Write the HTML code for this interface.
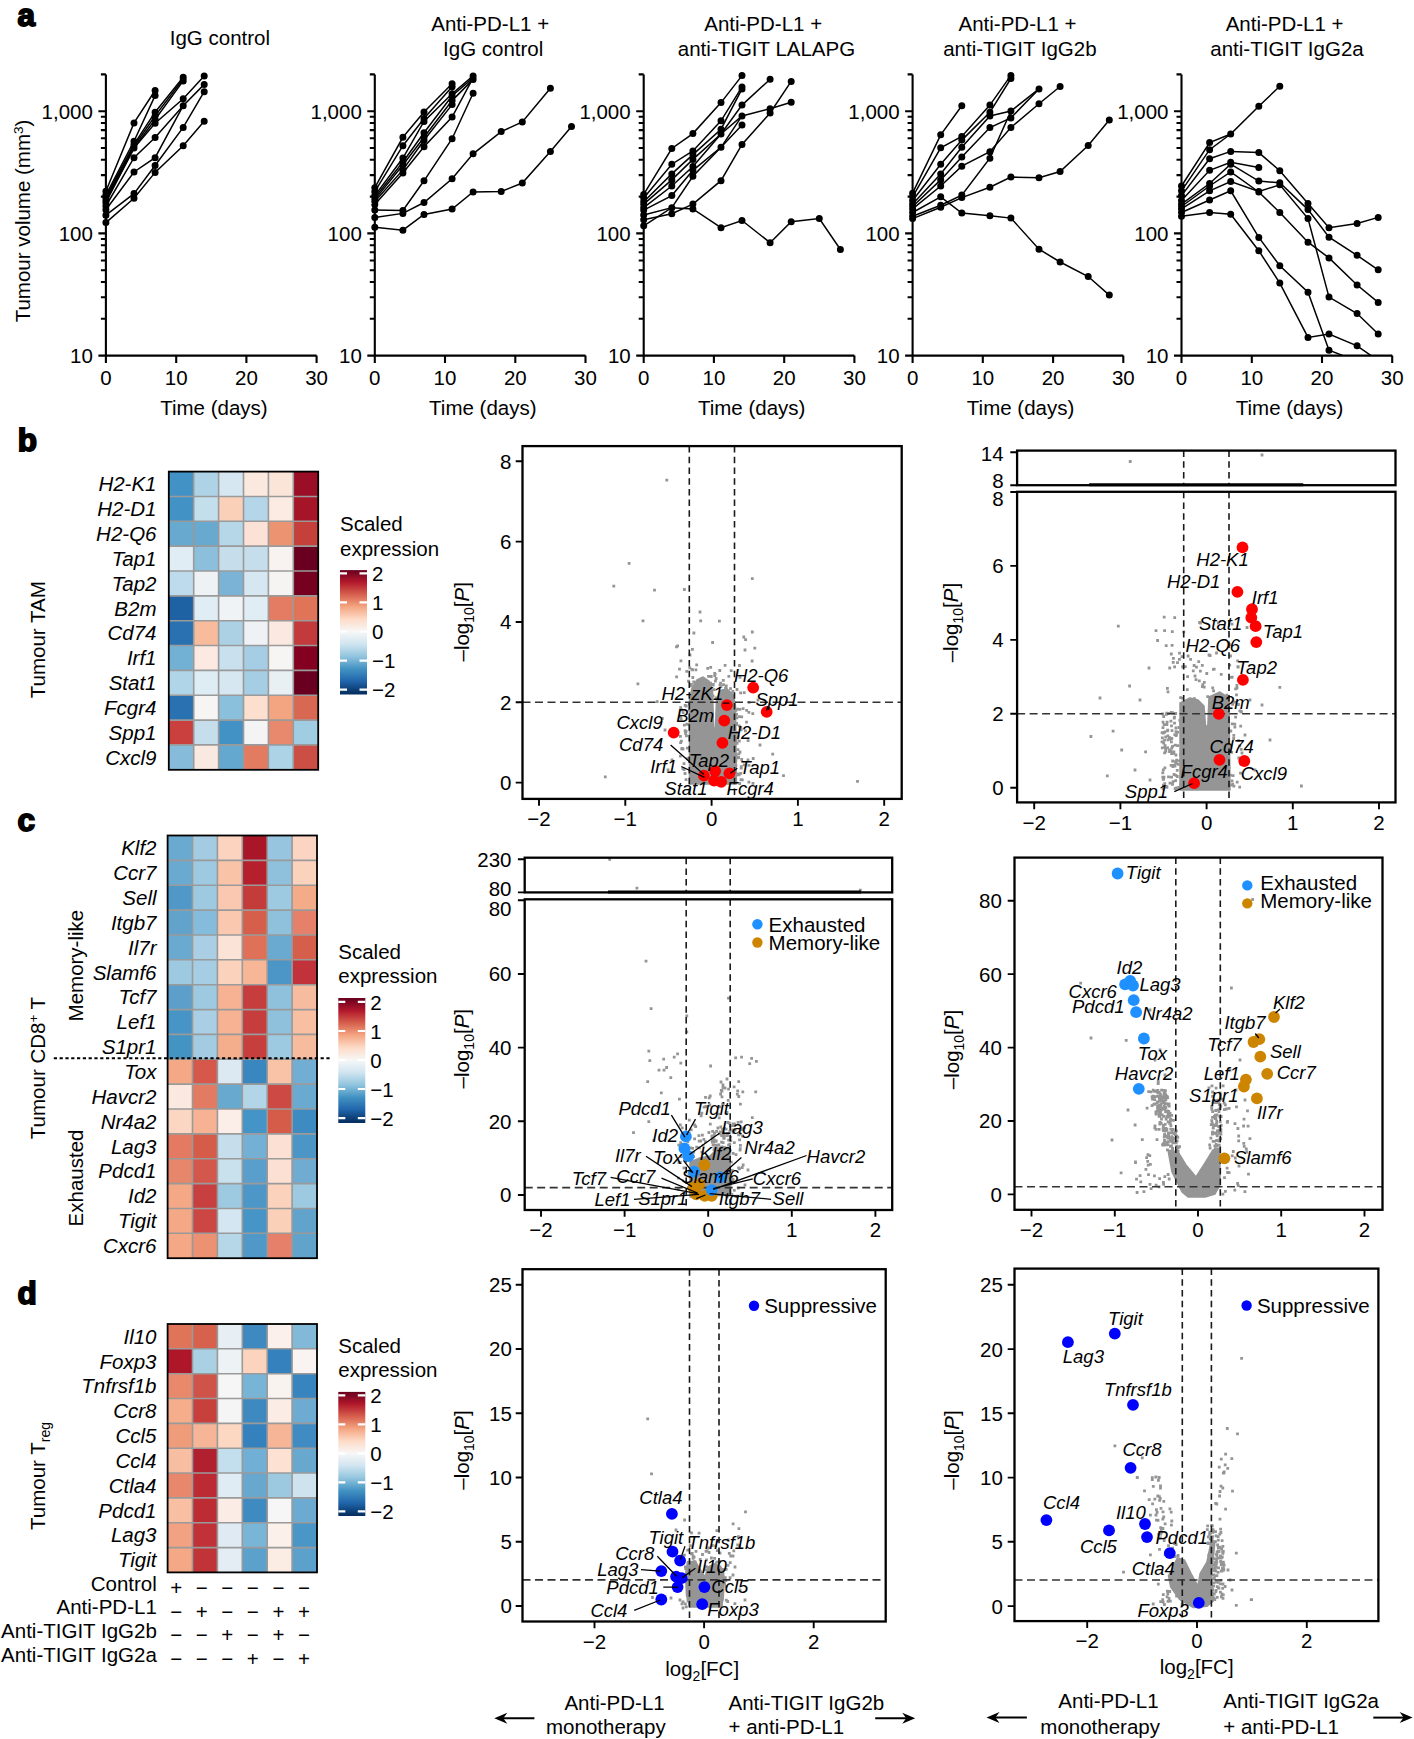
<!DOCTYPE html><html><head><meta charset="utf-8"><style>html,body{margin:0;padding:0;background:#fff}svg{display:block}</style></head><body>
<svg width="1414" height="1739" viewBox="0 0 1414 1739">
<rect width="1414" height="1739" fill="#fff"/>
<g font-family="&quot;Liberation Sans&quot;, sans-serif" font-size="20.5" fill="#000">
<defs><clipPath id="clipA"><rect x="0" y="0" width="1414" height="355.6"/></clipPath></defs>
<text x="17.6" y="26" font-size="31.5" font-weight="bold" stroke="#000" stroke-width="1.8">a</text>
<text x="17.8" y="451.1" font-size="31.5" font-weight="bold" stroke="#000" stroke-width="1.8">b</text>
<text x="17.6" y="831" font-size="31.5" font-weight="bold" stroke="#000" stroke-width="1.8">c</text>
<text x="17.6" y="1304.2" font-size="31.5" font-weight="bold" stroke="#000" stroke-width="1.8">d</text>
<text x="0" y="0"></text>
<text transform="translate(30.0 221.0) rotate(-90)" text-anchor="middle">Tumour volume (mm<tspan font-size="13.5" dy="-7">3</tspan><tspan dy="7">)</tspan></text>
<g stroke="#000" stroke-width="2.1" fill="none">
<path d="M105.9 74.4V363.1"/>
<path d="M98.4 355.6H316.6"/>
<path d="M100.9 318.8H105.9M100.9 297.3H105.9M100.9 282H105.9M100.9 270.2H105.9M100.9 260.5H105.9M100.9 252.3H105.9M100.9 245.2H105.9M100.9 239H105.9M98.4 233.4H105.9M100.9 196.6H105.9M100.9 175.1H105.9M100.9 159.8H105.9M100.9 148H105.9M100.9 138.3H105.9M100.9 130.1H105.9M100.9 123H105.9M100.9 116.8H105.9M98.4 111.2H105.9M100.9 74.4H105.9"/>
<path d="M176.2 355.6V363.1M246.4 355.6V363.1M316.6 355.6V363.1"/>
</g>
<text x="92.9" y="362.9" text-anchor="end">10</text>
<text x="92.9" y="240.7" text-anchor="end">100</text>
<text x="92.9" y="118.5" text-anchor="end">1,000</text>
<text x="105.9" y="385.2" text-anchor="middle">0</text>
<text x="176.2" y="385.2" text-anchor="middle">10</text>
<text x="246.4" y="385.2" text-anchor="middle">20</text>
<text x="316.6" y="385.2" text-anchor="middle">30</text>
<text x="213.9" y="414.6" text-anchor="middle">Time (days)</text>
<text x="219.9" y="45.3" text-anchor="middle">IgG control</text>
<g clip-path="url(#clipA)">
<g stroke="#000" stroke-width="1.5" fill="none">
<path d="M105.9 191.3L134 122.9L155.1 90.5"/>
<path d="M105.9 195L134 141.2L155.1 95.6"/>
<path d="M105.9 196.8L134 144.4L155.1 112.2L183.2 77.2"/>
<path d="M105.9 198.7L134 146.2L155.1 115.9L183.2 79"/>
<path d="M105.9 200.5L134 148.1L155.1 119.5L183.2 80.9"/>
<path d="M105.9 202.4L134 148.1L155.1 123.2L183.2 98.8L204.2 76.1"/>
<path d="M105.9 206L134 157.7L155.1 137.5L183.2 105.7L204.2 84.4"/>
<path d="M105.9 209.7L134 172L155.1 157.7L183.2 105.7"/>
<path d="M105.9 215.2L134 193.6L155.1 165.5L183.2 127.4L204.2 91.7"/>
<path d="M105.9 222.6L134 198.2L155.1 172.4L183.2 145.8L204.2 121.2"/>
</g>
<path d="M105.9 191.3h0M134 122.9h0M155.1 90.5h0M105.9 195h0M134 141.2h0M155.1 95.6h0M105.9 196.8h0M134 144.4h0M155.1 112.2h0M183.2 77.2h0M105.9 198.7h0M134 146.2h0M155.1 115.9h0M183.2 79h0M105.9 200.5h0M134 148.1h0M155.1 119.5h0M183.2 80.9h0M105.9 202.4h0M134 148.1h0M155.1 123.2h0M183.2 98.8h0M204.2 76.1h0M105.9 206h0M134 157.7h0M155.1 137.5h0M183.2 105.7h0M204.2 84.4h0M105.9 209.7h0M134 172h0M155.1 157.7h0M183.2 105.7h0M105.9 215.2h0M134 193.6h0M155.1 165.5h0M183.2 127.4h0M204.2 91.7h0M105.9 222.6h0M134 198.2h0M155.1 172.4h0M183.2 145.8h0M204.2 121.2h0" stroke="#000" stroke-width="7" stroke-linecap="round"/>
</g>
<g stroke="#000" stroke-width="2.1" fill="none">
<path d="M374.8 74.4V363.1"/>
<path d="M367.3 355.6H585.5"/>
<path d="M369.8 318.8H374.8M369.8 297.3H374.8M369.8 282H374.8M369.8 270.2H374.8M369.8 260.5H374.8M369.8 252.3H374.8M369.8 245.2H374.8M369.8 239H374.8M367.3 233.4H374.8M369.8 196.6H374.8M369.8 175.1H374.8M369.8 159.8H374.8M369.8 148H374.8M369.8 138.3H374.8M369.8 130.1H374.8M369.8 123H374.8M369.8 116.8H374.8M367.3 111.2H374.8M369.8 74.4H374.8"/>
<path d="M445 355.6V363.1M515.3 355.6V363.1M585.5 355.6V363.1"/>
</g>
<text x="361.8" y="362.9" text-anchor="end">10</text>
<text x="361.8" y="240.7" text-anchor="end">100</text>
<text x="361.8" y="118.5" text-anchor="end">1,000</text>
<text x="374.8" y="385.2" text-anchor="middle">0</text>
<text x="445" y="385.2" text-anchor="middle">10</text>
<text x="515.3" y="385.2" text-anchor="middle">20</text>
<text x="585.5" y="385.2" text-anchor="middle">30</text>
<text x="482.8" y="414.6" text-anchor="middle">Time (days)</text>
<text x="490.2" y="31" text-anchor="middle">Anti-PD-L1 +</text>
<text x="493.2" y="55.9" text-anchor="middle">IgG control</text>
<g clip-path="url(#clipA)">
<g stroke="#000" stroke-width="1.5" fill="none">
<path d="M374.8 187.7L402.9 137.3L424 112L452.1 83.8"/>
<path d="M374.8 191.7L402.9 145.7L424 118.5L452.1 86.8"/>
<path d="M374.8 195.6L402.9 158L424 121.4L452.1 93.7L473.1 75.9"/>
<path d="M374.8 197.6L402.9 162L424 132.8L452.1 95.7L473.1 77.9"/>
<path d="M374.8 199.6L402.9 165L424 137.3L452.1 100.6L473.1 79.4"/>
<path d="M374.8 201.6L402.9 169.9L424 140.2L452.1 104.6"/>
<path d="M374.8 204.5L402.9 172.9L424 146.7L452.1 117L473.1 77.9"/>
<path d="M374.8 210L402.9 210.5L424 180.8L452.1 138.7L473.1 93.2"/>
<path d="M374.8 217.4L402.9 213.4L424 202.5L452.1 178.8L473.1 153.8L501.2 131.6L522.3 122L550.4 88.2"/>
<path d="M374.8 227.3L402.9 230.2L424 214.4L452.1 209L473.1 192L501.2 191.5L522.3 183L550.4 151.4L571.5 126.6"/>
</g>
<path d="M374.8 187.7h0M402.9 137.3h0M424 112h0M452.1 83.8h0M374.8 191.7h0M402.9 145.7h0M424 118.5h0M452.1 86.8h0M374.8 195.6h0M402.9 158h0M424 121.4h0M452.1 93.7h0M473.1 75.9h0M374.8 197.6h0M402.9 162h0M424 132.8h0M452.1 95.7h0M473.1 77.9h0M374.8 199.6h0M402.9 165h0M424 137.3h0M452.1 100.6h0M473.1 79.4h0M374.8 201.6h0M402.9 169.9h0M424 140.2h0M452.1 104.6h0M374.8 204.5h0M402.9 172.9h0M424 146.7h0M452.1 117h0M473.1 77.9h0M374.8 210h0M402.9 210.5h0M424 180.8h0M452.1 138.7h0M473.1 93.2h0M374.8 217.4h0M402.9 213.4h0M424 202.5h0M452.1 178.8h0M473.1 153.8h0M501.2 131.6h0M522.3 122h0M550.4 88.2h0M374.8 227.3h0M402.9 230.2h0M424 214.4h0M452.1 209h0M473.1 192h0M501.2 191.5h0M522.3 183h0M550.4 151.4h0M571.5 126.6h0" stroke="#000" stroke-width="7" stroke-linecap="round"/>
</g>
<g stroke="#000" stroke-width="2.1" fill="none">
<path d="M643.7 74.4V363.1"/>
<path d="M636.2 355.6H854.4"/>
<path d="M638.7 318.8H643.7M638.7 297.3H643.7M638.7 282H643.7M638.7 270.2H643.7M638.7 260.5H643.7M638.7 252.3H643.7M638.7 245.2H643.7M638.7 239H643.7M636.2 233.4H643.7M638.7 196.6H643.7M638.7 175.1H643.7M638.7 159.8H643.7M638.7 148H643.7M638.7 138.3H643.7M638.7 130.1H643.7M638.7 123H643.7M638.7 116.8H643.7M636.2 111.2H643.7M638.7 74.4H643.7"/>
<path d="M713.9 355.6V363.1M784.2 355.6V363.1M854.4 355.6V363.1"/>
</g>
<text x="630.7" y="362.9" text-anchor="end">10</text>
<text x="630.7" y="240.7" text-anchor="end">100</text>
<text x="630.7" y="118.5" text-anchor="end">1,000</text>
<text x="643.7" y="385.2" text-anchor="middle">0</text>
<text x="713.9" y="385.2" text-anchor="middle">10</text>
<text x="784.2" y="385.2" text-anchor="middle">20</text>
<text x="854.4" y="385.2" text-anchor="middle">30</text>
<text x="751.7" y="414.6" text-anchor="middle">Time (days)</text>
<text x="763.2" y="31" text-anchor="middle">Anti-PD-L1 +</text>
<text x="766.5" y="55.9" text-anchor="middle">anti-TIGIT LALAPG</text>
<g clip-path="url(#clipA)">
<g stroke="#000" stroke-width="1.5" fill="none">
<path d="M643.7 194.4L671.8 148.5L692.9 133.6L721 102.6L742 75.6"/>
<path d="M643.7 198L671.8 164.2L692.9 150.9L721 120.8L742 86.9"/>
<path d="M643.7 201.7L671.8 173.9L692.9 154.6L721 129.2L742 88.9"/>
<path d="M643.7 204.1L671.8 179.9L692.9 159.4L721 134L742 105.1L770.1 79.2"/>
<path d="M643.7 207.7L671.8 186L692.9 166.6L721 134L742 115.9L770.1 108.7L791.2 102.2"/>
<path d="M643.7 210.1L671.8 195.6L692.9 170.3L721 147.3L742 125.1"/>
<path d="M643.7 214.9L671.8 207.7L692.9 176.3L721 147.3L742 115.9"/>
<path d="M643.7 219.8L671.8 213.7L692.9 204.1L721 180.7L742 144.4L770.1 113L791.2 81.4"/>
<path d="M643.7 225.8L671.8 207.7L692.9 208.9L721 227.7L742 220.5L770.1 242.7L791.2 221.7L819.3 218.6L840.4 249.5"/>
</g>
<path d="M643.7 194.4h0M671.8 148.5h0M692.9 133.6h0M721 102.6h0M742 75.6h0M643.7 198h0M671.8 164.2h0M692.9 150.9h0M721 120.8h0M742 86.9h0M643.7 201.7h0M671.8 173.9h0M692.9 154.6h0M721 129.2h0M742 88.9h0M643.7 204.1h0M671.8 179.9h0M692.9 159.4h0M721 134h0M742 105.1h0M770.1 79.2h0M643.7 207.7h0M671.8 186h0M692.9 166.6h0M721 134h0M742 115.9h0M770.1 108.7h0M791.2 102.2h0M643.7 210.1h0M671.8 195.6h0M692.9 170.3h0M721 147.3h0M742 125.1h0M643.7 214.9h0M671.8 207.7h0M692.9 176.3h0M721 147.3h0M742 115.9h0M643.7 219.8h0M671.8 213.7h0M692.9 204.1h0M721 180.7h0M742 144.4h0M770.1 113h0M791.2 81.4h0M643.7 225.8h0M671.8 207.7h0M692.9 208.9h0M721 227.7h0M742 220.5h0M770.1 242.7h0M791.2 221.7h0M819.3 218.6h0M840.4 249.5h0" stroke="#000" stroke-width="7" stroke-linecap="round"/>
</g>
<g stroke="#000" stroke-width="2.1" fill="none">
<path d="M912.6 74.4V363.1"/>
<path d="M905.1 355.6H1123.3"/>
<path d="M907.6 318.8H912.6M907.6 297.3H912.6M907.6 282H912.6M907.6 270.2H912.6M907.6 260.5H912.6M907.6 252.3H912.6M907.6 245.2H912.6M907.6 239H912.6M905.1 233.4H912.6M907.6 196.6H912.6M907.6 175.1H912.6M907.6 159.8H912.6M907.6 148H912.6M907.6 138.3H912.6M907.6 130.1H912.6M907.6 123H912.6M907.6 116.8H912.6M905.1 111.2H912.6M907.6 74.4H912.6"/>
<path d="M982.8 355.6V363.1M1053.1 355.6V363.1M1123.3 355.6V363.1"/>
</g>
<text x="899.6" y="362.9" text-anchor="end">10</text>
<text x="899.6" y="240.7" text-anchor="end">100</text>
<text x="899.6" y="118.5" text-anchor="end">1,000</text>
<text x="912.6" y="385.2" text-anchor="middle">0</text>
<text x="982.8" y="385.2" text-anchor="middle">10</text>
<text x="1053.1" y="385.2" text-anchor="middle">20</text>
<text x="1123.3" y="385.2" text-anchor="middle">30</text>
<text x="1020.6" y="414.6" text-anchor="middle">Time (days)</text>
<text x="1017.5" y="31" text-anchor="middle">Anti-PD-L1 +</text>
<text x="1019.9" y="55.9" text-anchor="middle">anti-TIGIT IgG2b</text>
<g clip-path="url(#clipA)">
<g stroke="#000" stroke-width="1.5" fill="none">
<path d="M912.6 193.2L940.7 134.8L961.8 105.8"/>
<path d="M912.6 196.8L940.7 147.8L961.8 136.5L989.9 105.1L1010.9 75.4"/>
<path d="M912.6 200.5L940.7 164.2L961.8 140.1L989.9 112.3L1010.9 78.5"/>
<path d="M912.6 204.1L940.7 173.9L961.8 147.3L989.9 115.9L1010.9 111.1L1039 88.9"/>
<path d="M912.6 206.5L940.7 179.9L961.8 157L989.9 127.5L1010.9 117.9L1039 88.9"/>
<path d="M912.6 208.9L940.7 186L961.8 166.2L989.9 151.7L1010.9 127.5L1039 103.8L1060.1 86.5"/>
<path d="M912.6 212.5L940.7 196.8L961.8 213L989.9 215.7L1010.9 218.1L1039 249.2L1060.1 262L1088.2 276.5L1109.3 295.1"/>
<path d="M912.6 216.2L940.7 205.3L961.8 195.1L989.9 158.2L1010.9 111.1"/>
<path d="M912.6 218.6L940.7 207.2L961.8 197.6L989.9 187.2L1010.9 177L1039 177.8L1060.1 171.5L1088.2 145.6L1109.3 120"/>
</g>
<path d="M912.6 193.2h0M940.7 134.8h0M961.8 105.8h0M912.6 196.8h0M940.7 147.8h0M961.8 136.5h0M989.9 105.1h0M1010.9 75.4h0M912.6 200.5h0M940.7 164.2h0M961.8 140.1h0M989.9 112.3h0M1010.9 78.5h0M912.6 204.1h0M940.7 173.9h0M961.8 147.3h0M989.9 115.9h0M1010.9 111.1h0M1039 88.9h0M912.6 206.5h0M940.7 179.9h0M961.8 157h0M989.9 127.5h0M1010.9 117.9h0M1039 88.9h0M912.6 208.9h0M940.7 186h0M961.8 166.2h0M989.9 151.7h0M1010.9 127.5h0M1039 103.8h0M1060.1 86.5h0M912.6 212.5h0M940.7 196.8h0M961.8 213h0M989.9 215.7h0M1010.9 218.1h0M1039 249.2h0M1060.1 262h0M1088.2 276.5h0M1109.3 295.1h0M912.6 216.2h0M940.7 205.3h0M961.8 195.1h0M989.9 158.2h0M1010.9 111.1h0M912.6 218.6h0M940.7 207.2h0M961.8 197.6h0M989.9 187.2h0M1010.9 177h0M1039 177.8h0M1060.1 171.5h0M1088.2 145.6h0M1109.3 120h0" stroke="#000" stroke-width="7" stroke-linecap="round"/>
</g>
<g stroke="#000" stroke-width="2.1" fill="none">
<path d="M1181.5 74.4V363.1"/>
<path d="M1174 355.6H1392.2"/>
<path d="M1176.5 318.8H1181.5M1176.5 297.3H1181.5M1176.5 282H1181.5M1176.5 270.2H1181.5M1176.5 260.5H1181.5M1176.5 252.3H1181.5M1176.5 245.2H1181.5M1176.5 239H1181.5M1174 233.4H1181.5M1176.5 196.6H1181.5M1176.5 175.1H1181.5M1176.5 159.8H1181.5M1176.5 148H1181.5M1176.5 138.3H1181.5M1176.5 130.1H1181.5M1176.5 123H1181.5M1176.5 116.8H1181.5M1174 111.2H1181.5M1176.5 74.4H1181.5"/>
<path d="M1251.8 355.6V363.1M1322 355.6V363.1M1392.2 355.6V363.1"/>
</g>
<text x="1168.5" y="362.9" text-anchor="end">10</text>
<text x="1168.5" y="240.7" text-anchor="end">100</text>
<text x="1168.5" y="118.5" text-anchor="end">1,000</text>
<text x="1181.5" y="385.2" text-anchor="middle">0</text>
<text x="1251.8" y="385.2" text-anchor="middle">10</text>
<text x="1322" y="385.2" text-anchor="middle">20</text>
<text x="1392.2" y="385.2" text-anchor="middle">30</text>
<text x="1289.5" y="414.6" text-anchor="middle">Time (days)</text>
<text x="1284.6" y="31" text-anchor="middle">Anti-PD-L1 +</text>
<text x="1287" y="55.9" text-anchor="middle">anti-TIGIT IgG2a</text>
<g clip-path="url(#clipA)">
<g stroke="#000" stroke-width="1.5" fill="none">
<path d="M1181.5 186L1209.6 142.5L1230.7 134L1258.8 106.3L1279.8 86.2"/>
<path d="M1181.5 190.8L1209.6 149.7L1230.7 134"/>
<path d="M1181.5 195.6L1209.6 158.7L1230.7 151.4L1258.8 152.6L1279.8 170.7L1308 203.6L1329 227.7L1357.1 223.4L1378.2 217.4"/>
<path d="M1181.5 200.5L1209.6 170.3L1230.7 162.3L1258.8 167.4"/>
<path d="M1181.5 204.1L1209.6 183.5L1230.7 164.2L1258.8 181.1L1279.8 182.8L1308 209.6L1329 237.2L1357.1 255.3L1378.2 269.8"/>
<path d="M1181.5 206.5L1209.6 186L1230.7 172L1258.8 192L1279.8 212.5L1308 242.2L1329 257.9L1357.1 285L1378.2 302.4"/>
<path d="M1181.5 208.9L1209.6 190.8L1230.7 181.6L1258.8 191.5L1279.8 184.8L1308 218.6L1329 297.1L1357.1 313.5L1378.2 334"/>
<path d="M1181.5 212.5L1209.6 200L1230.7 190.8L1258.8 237.4L1279.8 265.7L1308 292.2L1329 350.2L1357.1 361.1"/>
<path d="M1181.5 216.2L1209.6 212.5L1230.7 214.2L1258.8 250.7L1279.8 283.1L1308 337.4L1329 334L1357.1 345.8L1378.2 360.6"/>
</g>
<path d="M1181.5 186h0M1209.6 142.5h0M1230.7 134h0M1258.8 106.3h0M1279.8 86.2h0M1181.5 190.8h0M1209.6 149.7h0M1230.7 134h0M1181.5 195.6h0M1209.6 158.7h0M1230.7 151.4h0M1258.8 152.6h0M1279.8 170.7h0M1308 203.6h0M1329 227.7h0M1357.1 223.4h0M1378.2 217.4h0M1181.5 200.5h0M1209.6 170.3h0M1230.7 162.3h0M1258.8 167.4h0M1181.5 204.1h0M1209.6 183.5h0M1230.7 164.2h0M1258.8 181.1h0M1279.8 182.8h0M1308 209.6h0M1329 237.2h0M1357.1 255.3h0M1378.2 269.8h0M1181.5 206.5h0M1209.6 186h0M1230.7 172h0M1258.8 192h0M1279.8 212.5h0M1308 242.2h0M1329 257.9h0M1357.1 285h0M1378.2 302.4h0M1181.5 208.9h0M1209.6 190.8h0M1230.7 181.6h0M1258.8 191.5h0M1279.8 184.8h0M1308 218.6h0M1329 297.1h0M1357.1 313.5h0M1378.2 334h0M1181.5 212.5h0M1209.6 200h0M1230.7 190.8h0M1258.8 237.4h0M1279.8 265.7h0M1308 292.2h0M1329 350.2h0M1181.5 216.2h0M1209.6 212.5h0M1230.7 214.2h0M1258.8 250.7h0M1279.8 283.1h0M1308 337.4h0M1329 334h0M1357.1 345.8h0" stroke="#000" stroke-width="7" stroke-linecap="round"/>
</g>
<rect x="168.8" y="471.6" width="25.2" height="25.1" fill="#4292c6"/>
<rect x="193.7" y="471.6" width="25.2" height="25.1" fill="#aed3e6"/>
<rect x="218.6" y="471.6" width="25.2" height="25.1" fill="#d6e7f1"/>
<rect x="243.5" y="471.6" width="25.2" height="25.1" fill="#fbe9df"/>
<rect x="268.4" y="471.6" width="25.2" height="25.1" fill="#fbe5d9"/>
<rect x="293.3" y="471.6" width="25.2" height="25.1" fill="#9a0f26"/>
<rect x="168.8" y="496.5" width="25.2" height="25.1" fill="#4292c6"/>
<rect x="193.7" y="496.5" width="25.2" height="25.1" fill="#c4dfec"/>
<rect x="218.6" y="496.5" width="25.2" height="25.1" fill="#fbd0b9"/>
<rect x="243.5" y="496.5" width="25.2" height="25.1" fill="#b4d6e8"/>
<rect x="268.4" y="496.5" width="25.2" height="25.1" fill="#fbebe3"/>
<rect x="293.3" y="496.5" width="25.2" height="25.1" fill="#a61427"/>
<rect x="168.8" y="521.3" width="25.2" height="25.1" fill="#67a9cf"/>
<rect x="193.7" y="521.3" width="25.2" height="25.1" fill="#67a9cf"/>
<rect x="218.6" y="521.3" width="25.2" height="25.1" fill="#b6d7e8"/>
<rect x="243.5" y="521.3" width="25.2" height="25.1" fill="#fce2d6"/>
<rect x="268.4" y="521.3" width="25.2" height="25.1" fill="#ec9472"/>
<rect x="293.3" y="521.3" width="25.2" height="25.1" fill="#c5403b"/>
<rect x="168.8" y="546.1" width="25.2" height="25.1" fill="#e1edf4"/>
<rect x="193.7" y="546.1" width="25.2" height="25.1" fill="#8bbfdc"/>
<rect x="218.6" y="546.1" width="25.2" height="25.1" fill="#c6deec"/>
<rect x="243.5" y="546.1" width="25.2" height="25.1" fill="#c6deec"/>
<rect x="268.4" y="546.1" width="25.2" height="25.1" fill="#f8f3f1"/>
<rect x="293.3" y="546.1" width="25.2" height="25.1" fill="#6a001f"/>
<rect x="168.8" y="571" width="25.2" height="25.1" fill="#bddbec"/>
<rect x="193.7" y="571" width="25.2" height="25.1" fill="#eef2f5"/>
<rect x="218.6" y="571" width="25.2" height="25.1" fill="#7ab3d6"/>
<rect x="243.5" y="571" width="25.2" height="25.1" fill="#d6e7f1"/>
<rect x="268.4" y="571" width="25.2" height="25.1" fill="#f5f4f3"/>
<rect x="293.3" y="571" width="25.2" height="25.1" fill="#75001f"/>
<rect x="168.8" y="595.9" width="25.2" height="25.1" fill="#1f62a4"/>
<rect x="193.7" y="595.9" width="25.2" height="25.1" fill="#e1edf4"/>
<rect x="218.6" y="595.9" width="25.2" height="25.1" fill="#f0f3f5"/>
<rect x="243.5" y="595.9" width="25.2" height="25.1" fill="#e1edf4"/>
<rect x="268.4" y="595.9" width="25.2" height="25.1" fill="#e37c62"/>
<rect x="293.3" y="595.9" width="25.2" height="25.1" fill="#e07459"/>
<rect x="168.8" y="620.7" width="25.2" height="25.1" fill="#2a71b2"/>
<rect x="193.7" y="620.7" width="25.2" height="25.1" fill="#f8bb9c"/>
<rect x="218.6" y="620.7" width="25.2" height="25.1" fill="#acd1e5"/>
<rect x="243.5" y="620.7" width="25.2" height="25.1" fill="#eef2f5"/>
<rect x="268.4" y="620.7" width="25.2" height="25.1" fill="#fbe8e1"/>
<rect x="293.3" y="620.7" width="25.2" height="25.1" fill="#c33a3c"/>
<rect x="168.8" y="645.5" width="25.2" height="25.1" fill="#73b1d4"/>
<rect x="193.7" y="645.5" width="25.2" height="25.1" fill="#fbe9e2"/>
<rect x="218.6" y="645.5" width="25.2" height="25.1" fill="#c9e1ee"/>
<rect x="243.5" y="645.5" width="25.2" height="25.1" fill="#a5cde3"/>
<rect x="268.4" y="645.5" width="25.2" height="25.1" fill="#f6f5f4"/>
<rect x="293.3" y="645.5" width="25.2" height="25.1" fill="#830020"/>
<rect x="168.8" y="670.4" width="25.2" height="25.1" fill="#b1d5e8"/>
<rect x="193.7" y="670.4" width="25.2" height="25.1" fill="#deedf4"/>
<rect x="218.6" y="670.4" width="25.2" height="25.1" fill="#d6e7f1"/>
<rect x="243.5" y="670.4" width="25.2" height="25.1" fill="#a5cde3"/>
<rect x="268.4" y="670.4" width="25.2" height="25.1" fill="#e9f0f4"/>
<rect x="293.3" y="670.4" width="25.2" height="25.1" fill="#6a001f"/>
<rect x="168.8" y="695.2" width="25.2" height="25.1" fill="#2a71b2"/>
<rect x="193.7" y="695.2" width="25.2" height="25.1" fill="#f6f5f4"/>
<rect x="218.6" y="695.2" width="25.2" height="25.1" fill="#8bc0dd"/>
<rect x="243.5" y="695.2" width="25.2" height="25.1" fill="#fcdfce"/>
<rect x="268.4" y="695.2" width="25.2" height="25.1" fill="#f3a481"/>
<rect x="293.3" y="695.2" width="25.2" height="25.1" fill="#d96853"/>
<rect x="168.8" y="720.1" width="25.2" height="25.1" fill="#c9403e"/>
<rect x="193.7" y="720.1" width="25.2" height="25.1" fill="#c6deec"/>
<rect x="218.6" y="720.1" width="25.2" height="25.1" fill="#4292c6"/>
<rect x="243.5" y="720.1" width="25.2" height="25.1" fill="#f4f4f4"/>
<rect x="268.4" y="720.1" width="25.2" height="25.1" fill="#e8886c"/>
<rect x="293.3" y="720.1" width="25.2" height="25.1" fill="#a1cde3"/>
<rect x="168.8" y="744.9" width="25.2" height="25.1" fill="#86bbd9"/>
<rect x="193.7" y="744.9" width="25.2" height="25.1" fill="#f9e9e0"/>
<rect x="218.6" y="744.9" width="25.2" height="25.1" fill="#64a7cf"/>
<rect x="243.5" y="744.9" width="25.2" height="25.1" fill="#e27b60"/>
<rect x="268.4" y="744.9" width="25.2" height="25.1" fill="#acd3e6"/>
<rect x="293.3" y="744.9" width="25.2" height="25.1" fill="#cc4f45"/>
<path d="M193.7 471.6V769.8M218.6 471.6V769.8M243.5 471.6V769.8M268.4 471.6V769.8M293.3 471.6V769.8M168.8 496.5H318.2M168.8 521.3H318.2M168.8 546.1H318.2M168.8 571H318.2M168.8 595.9H318.2M168.8 620.7H318.2M168.8 645.5H318.2M168.8 670.4H318.2M168.8 695.2H318.2M168.8 720.1H318.2M168.8 744.9H318.2" stroke="#9a9a9a" stroke-width="1.6" fill="none"/>
<rect x="168.8" y="471.6" width="149.4" height="298.2" fill="none" stroke="#000" stroke-width="1.8"/>
<text x="156.5" y="491.2" text-anchor="end" font-style="italic">H2-K1</text>
<text x="156.5" y="516.1" text-anchor="end" font-style="italic">H2-D1</text>
<text x="156.5" y="540.9" text-anchor="end" font-style="italic">H2-Q6</text>
<text x="156.5" y="565.8" text-anchor="end" font-style="italic">Tap1</text>
<text x="156.5" y="590.6" text-anchor="end" font-style="italic">Tap2</text>
<text x="156.5" y="615.5" text-anchor="end" font-style="italic">B2m</text>
<text x="156.5" y="640.3" text-anchor="end" font-style="italic">Cd74</text>
<text x="156.5" y="665.2" text-anchor="end" font-style="italic">Irf1</text>
<text x="156.5" y="690" text-anchor="end" font-style="italic">Stat1</text>
<text x="156.5" y="714.9" text-anchor="end" font-style="italic">Fcgr4</text>
<text x="156.5" y="739.7" text-anchor="end" font-style="italic">Spp1</text>
<text x="156.5" y="764.6" text-anchor="end" font-style="italic">Cxcl9</text>
<rect x="167.6" y="835.5" width="25.2" height="25.2" fill="#6aaad1"/>
<rect x="192.5" y="835.5" width="25.2" height="25.2" fill="#a3cbe2"/>
<rect x="217.4" y="835.5" width="25.2" height="25.2" fill="#fbd3bf"/>
<rect x="242.3" y="835.5" width="25.2" height="25.2" fill="#a91628"/>
<rect x="267.2" y="835.5" width="25.2" height="25.2" fill="#97c4df"/>
<rect x="292.1" y="835.5" width="25.2" height="25.2" fill="#fbd5c1"/>
<rect x="167.6" y="860.4" width="25.2" height="25.2" fill="#6aaad1"/>
<rect x="192.5" y="860.4" width="25.2" height="25.2" fill="#9ecae1"/>
<rect x="217.4" y="860.4" width="25.2" height="25.2" fill="#f9c3a8"/>
<rect x="242.3" y="860.4" width="25.2" height="25.2" fill="#b6202d"/>
<rect x="267.2" y="860.4" width="25.2" height="25.2" fill="#8fc1dd"/>
<rect x="292.1" y="860.4" width="25.2" height="25.2" fill="#fbd2bc"/>
<rect x="167.6" y="885.2" width="25.2" height="25.2" fill="#5098c8"/>
<rect x="192.5" y="885.2" width="25.2" height="25.2" fill="#9ecae1"/>
<rect x="217.4" y="885.2" width="25.2" height="25.2" fill="#fac8b0"/>
<rect x="242.3" y="885.2" width="25.2" height="25.2" fill="#c43c3a"/>
<rect x="267.2" y="885.2" width="25.2" height="25.2" fill="#9ecae1"/>
<rect x="292.1" y="885.2" width="25.2" height="25.2" fill="#f4ab88"/>
<rect x="167.6" y="910.1" width="25.2" height="25.2" fill="#62a3cc"/>
<rect x="192.5" y="910.1" width="25.2" height="25.2" fill="#86bcdb"/>
<rect x="217.4" y="910.1" width="25.2" height="25.2" fill="#fac8ae"/>
<rect x="242.3" y="910.1" width="25.2" height="25.2" fill="#d65f4c"/>
<rect x="267.2" y="910.1" width="25.2" height="25.2" fill="#8fc1dd"/>
<rect x="292.1" y="910.1" width="25.2" height="25.2" fill="#e5816a"/>
<rect x="167.6" y="935" width="25.2" height="25.2" fill="#6aaad1"/>
<rect x="192.5" y="935" width="25.2" height="25.2" fill="#aacfe4"/>
<rect x="217.4" y="935" width="25.2" height="25.2" fill="#fce3d8"/>
<rect x="242.3" y="935" width="25.2" height="25.2" fill="#e07159"/>
<rect x="267.2" y="935" width="25.2" height="25.2" fill="#6aaad1"/>
<rect x="292.1" y="935" width="25.2" height="25.2" fill="#d65f4c"/>
<rect x="167.6" y="959.8" width="25.2" height="25.2" fill="#9ecae1"/>
<rect x="192.5" y="959.8" width="25.2" height="25.2" fill="#a5cde3"/>
<rect x="217.4" y="959.8" width="25.2" height="25.2" fill="#fbd3bd"/>
<rect x="242.3" y="959.8" width="25.2" height="25.2" fill="#f7b696"/>
<rect x="267.2" y="959.8" width="25.2" height="25.2" fill="#4b96c7"/>
<rect x="292.1" y="959.8" width="25.2" height="25.2" fill="#c1323a"/>
<rect x="167.6" y="984.7" width="25.2" height="25.2" fill="#5c9fcb"/>
<rect x="192.5" y="984.7" width="25.2" height="25.2" fill="#9ecae1"/>
<rect x="217.4" y="984.7" width="25.2" height="25.2" fill="#f6b293"/>
<rect x="242.3" y="984.7" width="25.2" height="25.2" fill="#c53d3c"/>
<rect x="267.2" y="984.7" width="25.2" height="25.2" fill="#8fc1dd"/>
<rect x="292.1" y="984.7" width="25.2" height="25.2" fill="#f7bca0"/>
<rect x="167.6" y="1009.6" width="25.2" height="25.2" fill="#4795c7"/>
<rect x="192.5" y="1009.6" width="25.2" height="25.2" fill="#aacfe4"/>
<rect x="217.4" y="1009.6" width="25.2" height="25.2" fill="#f6b293"/>
<rect x="242.3" y="1009.6" width="25.2" height="25.2" fill="#c53d3c"/>
<rect x="267.2" y="1009.6" width="25.2" height="25.2" fill="#8fc1dd"/>
<rect x="292.1" y="1009.6" width="25.2" height="25.2" fill="#f8bfa2"/>
<rect x="167.6" y="1034.4" width="25.2" height="25.2" fill="#4393c3"/>
<rect x="192.5" y="1034.4" width="25.2" height="25.2" fill="#a3cbe2"/>
<rect x="217.4" y="1034.4" width="25.2" height="25.2" fill="#f5ae8c"/>
<rect x="242.3" y="1034.4" width="25.2" height="25.2" fill="#c63f3d"/>
<rect x="267.2" y="1034.4" width="25.2" height="25.2" fill="#9ecae1"/>
<rect x="292.1" y="1034.4" width="25.2" height="25.2" fill="#f7bb9e"/>
<rect x="167.6" y="1059.3" width="25.2" height="25.2" fill="#f5a885"/>
<rect x="192.5" y="1059.3" width="25.2" height="25.2" fill="#d5584a"/>
<rect x="217.4" y="1059.3" width="25.2" height="25.2" fill="#dce9f2"/>
<rect x="242.3" y="1059.3" width="25.2" height="25.2" fill="#3a86bf"/>
<rect x="267.2" y="1059.3" width="25.2" height="25.2" fill="#f9c3a7"/>
<rect x="292.1" y="1059.3" width="25.2" height="25.2" fill="#72aed3"/>
<rect x="167.6" y="1084.1" width="25.2" height="25.2" fill="#fbe9e0"/>
<rect x="192.5" y="1084.1" width="25.2" height="25.2" fill="#e37a62"/>
<rect x="217.4" y="1084.1" width="25.2" height="25.2" fill="#67a9cf"/>
<rect x="242.3" y="1084.1" width="25.2" height="25.2" fill="#b3d5e8"/>
<rect x="267.2" y="1084.1" width="25.2" height="25.2" fill="#cd4944"/>
<rect x="292.1" y="1084.1" width="25.2" height="25.2" fill="#6aaad1"/>
<rect x="167.6" y="1109" width="25.2" height="25.2" fill="#fbd6c3"/>
<rect x="192.5" y="1109" width="25.2" height="25.2" fill="#f6b293"/>
<rect x="217.4" y="1109" width="25.2" height="25.2" fill="#fbeee9"/>
<rect x="242.3" y="1109" width="25.2" height="25.2" fill="#4494c7"/>
<rect x="267.2" y="1109" width="25.2" height="25.2" fill="#d65c4a"/>
<rect x="292.1" y="1109" width="25.2" height="25.2" fill="#3e8bc2"/>
<rect x="167.6" y="1133.9" width="25.2" height="25.2" fill="#e57a62"/>
<rect x="192.5" y="1133.9" width="25.2" height="25.2" fill="#d65c4a"/>
<rect x="217.4" y="1133.9" width="25.2" height="25.2" fill="#c6deec"/>
<rect x="242.3" y="1133.9" width="25.2" height="25.2" fill="#74b0d4"/>
<rect x="267.2" y="1133.9" width="25.2" height="25.2" fill="#fce0d3"/>
<rect x="292.1" y="1133.9" width="25.2" height="25.2" fill="#4b96c7"/>
<rect x="167.6" y="1158.7" width="25.2" height="25.2" fill="#e6866b"/>
<rect x="192.5" y="1158.7" width="25.2" height="25.2" fill="#d3574a"/>
<rect x="217.4" y="1158.7" width="25.2" height="25.2" fill="#c9e0ed"/>
<rect x="242.3" y="1158.7" width="25.2" height="25.2" fill="#5a9ecb"/>
<rect x="267.2" y="1158.7" width="25.2" height="25.2" fill="#fce0d3"/>
<rect x="292.1" y="1158.7" width="25.2" height="25.2" fill="#70abd2"/>
<rect x="167.6" y="1183.6" width="25.2" height="25.2" fill="#f5a885"/>
<rect x="192.5" y="1183.6" width="25.2" height="25.2" fill="#c73f3e"/>
<rect x="217.4" y="1183.6" width="25.2" height="25.2" fill="#9ecae1"/>
<rect x="242.3" y="1183.6" width="25.2" height="25.2" fill="#4d97c8"/>
<rect x="267.2" y="1183.6" width="25.2" height="25.2" fill="#fbd2bc"/>
<rect x="292.1" y="1183.6" width="25.2" height="25.2" fill="#9ecae1"/>
<rect x="167.6" y="1208.5" width="25.2" height="25.2" fill="#f5a885"/>
<rect x="192.5" y="1208.5" width="25.2" height="25.2" fill="#cc4744"/>
<rect x="217.4" y="1208.5" width="25.2" height="25.2" fill="#d4e6f1"/>
<rect x="242.3" y="1208.5" width="25.2" height="25.2" fill="#4795c7"/>
<rect x="267.2" y="1208.5" width="25.2" height="25.2" fill="#fbd0b8"/>
<rect x="292.1" y="1208.5" width="25.2" height="25.2" fill="#62a3cc"/>
<rect x="167.6" y="1233.3" width="25.2" height="25.2" fill="#f5a885"/>
<rect x="192.5" y="1233.3" width="25.2" height="25.2" fill="#ec9273"/>
<rect x="217.4" y="1233.3" width="25.2" height="25.2" fill="#b6d7e8"/>
<rect x="242.3" y="1233.3" width="25.2" height="25.2" fill="#5098c8"/>
<rect x="267.2" y="1233.3" width="25.2" height="25.2" fill="#e6806a"/>
<rect x="292.1" y="1233.3" width="25.2" height="25.2" fill="#62a3cc"/>
<path d="M192.5 835.5V1258.2M217.4 835.5V1258.2M242.3 835.5V1258.2M267.2 835.5V1258.2M292.1 835.5V1258.2M167.6 860.4H317M167.6 885.2H317M167.6 910.1H317M167.6 935H317M167.6 959.8H317M167.6 984.7H317M167.6 1009.6H317M167.6 1034.4H317M167.6 1059.3H317M167.6 1084.1H317M167.6 1109H317M167.6 1133.9H317M167.6 1158.7H317M167.6 1183.6H317M167.6 1208.5H317M167.6 1233.3H317" stroke="#9a9a9a" stroke-width="1.6" fill="none"/>
<rect x="167.6" y="835.5" width="149.4" height="422.7" fill="none" stroke="#000" stroke-width="1.8"/>
<text x="156.5" y="855.1" text-anchor="end" font-style="italic">Klf2</text>
<text x="156.5" y="880" text-anchor="end" font-style="italic">Ccr7</text>
<text x="156.5" y="904.9" text-anchor="end" font-style="italic">Sell</text>
<text x="156.5" y="929.7" text-anchor="end" font-style="italic">Itgb7</text>
<text x="156.5" y="954.6" text-anchor="end" font-style="italic">Il7r</text>
<text x="156.5" y="979.5" text-anchor="end" font-style="italic">Slamf6</text>
<text x="156.5" y="1004.3" text-anchor="end" font-style="italic">Tcf7</text>
<text x="156.5" y="1029.2" text-anchor="end" font-style="italic">Lef1</text>
<text x="156.5" y="1054" text-anchor="end" font-style="italic">S1pr1</text>
<text x="156.5" y="1078.9" text-anchor="end" font-style="italic">Tox</text>
<text x="156.5" y="1103.8" text-anchor="end" font-style="italic">Havcr2</text>
<text x="156.5" y="1128.6" text-anchor="end" font-style="italic">Nr4a2</text>
<text x="156.5" y="1153.5" text-anchor="end" font-style="italic">Lag3</text>
<text x="156.5" y="1178.4" text-anchor="end" font-style="italic">Pdcd1</text>
<text x="156.5" y="1203.2" text-anchor="end" font-style="italic">Id2</text>
<text x="156.5" y="1228.1" text-anchor="end" font-style="italic">Tigit</text>
<text x="156.5" y="1253" text-anchor="end" font-style="italic">Cxcr6</text>
<rect x="167.6" y="1324" width="25.2" height="25.1" fill="#e07459"/>
<rect x="192.5" y="1324" width="25.2" height="25.1" fill="#d6624e"/>
<rect x="217.4" y="1324" width="25.2" height="25.1" fill="#e7eff4"/>
<rect x="242.3" y="1324" width="25.2" height="25.1" fill="#3d89c0"/>
<rect x="267.2" y="1324" width="25.2" height="25.1" fill="#fbf0eb"/>
<rect x="292.1" y="1324" width="25.2" height="25.1" fill="#82b8d8"/>
<rect x="167.6" y="1348.8" width="25.2" height="25.1" fill="#ae1629"/>
<rect x="192.5" y="1348.8" width="25.2" height="25.1" fill="#aad0e4"/>
<rect x="217.4" y="1348.8" width="25.2" height="25.1" fill="#edf2f5"/>
<rect x="242.3" y="1348.8" width="25.2" height="25.1" fill="#fcd4bd"/>
<rect x="267.2" y="1348.8" width="25.2" height="25.1" fill="#3581bd"/>
<rect x="292.1" y="1348.8" width="25.2" height="25.1" fill="#f9f4f1"/>
<rect x="167.6" y="1373.7" width="25.2" height="25.1" fill="#e8896c"/>
<rect x="192.5" y="1373.7" width="25.2" height="25.1" fill="#d0534a"/>
<rect x="217.4" y="1373.7" width="25.2" height="25.1" fill="#f5f6f5"/>
<rect x="242.3" y="1373.7" width="25.2" height="25.1" fill="#78b4d6"/>
<rect x="267.2" y="1373.7" width="25.2" height="25.1" fill="#f9f3ef"/>
<rect x="292.1" y="1373.7" width="25.2" height="25.1" fill="#3884be"/>
<rect x="167.6" y="1398.5" width="25.2" height="25.1" fill="#f5ad8c"/>
<rect x="192.5" y="1398.5" width="25.2" height="25.1" fill="#c7403b"/>
<rect x="217.4" y="1398.5" width="25.2" height="25.1" fill="#f5f5f5"/>
<rect x="242.3" y="1398.5" width="25.2" height="25.1" fill="#3d89c0"/>
<rect x="267.2" y="1398.5" width="25.2" height="25.1" fill="#fbede6"/>
<rect x="292.1" y="1398.5" width="25.2" height="25.1" fill="#6dabd2"/>
<rect x="167.6" y="1423.4" width="25.2" height="25.1" fill="#ef9c7b"/>
<rect x="192.5" y="1423.4" width="25.2" height="25.1" fill="#f6b596"/>
<rect x="217.4" y="1423.4" width="25.2" height="25.1" fill="#fcd7c2"/>
<rect x="242.3" y="1423.4" width="25.2" height="25.1" fill="#3581bd"/>
<rect x="267.2" y="1423.4" width="25.2" height="25.1" fill="#f6b596"/>
<rect x="292.1" y="1423.4" width="25.2" height="25.1" fill="#408cc2"/>
<rect x="167.6" y="1448.2" width="25.2" height="25.1" fill="#f8bea2"/>
<rect x="192.5" y="1448.2" width="25.2" height="25.1" fill="#b0202e"/>
<rect x="217.4" y="1448.2" width="25.2" height="25.1" fill="#c3deed"/>
<rect x="242.3" y="1448.2" width="25.2" height="25.1" fill="#72afd4"/>
<rect x="267.2" y="1448.2" width="25.2" height="25.1" fill="#fde1d3"/>
<rect x="292.1" y="1448.2" width="25.2" height="25.1" fill="#68a8cf"/>
<rect x="167.6" y="1473" width="25.2" height="25.1" fill="#e7876b"/>
<rect x="192.5" y="1473" width="25.2" height="25.1" fill="#bc2a33"/>
<rect x="217.4" y="1473" width="25.2" height="25.1" fill="#e0ecf3"/>
<rect x="242.3" y="1473" width="25.2" height="25.1" fill="#68a8cf"/>
<rect x="267.2" y="1473" width="25.2" height="25.1" fill="#9dc9e0"/>
<rect x="292.1" y="1473" width="25.2" height="25.1" fill="#cfe3ef"/>
<rect x="167.6" y="1497.9" width="25.2" height="25.1" fill="#f8bfa3"/>
<rect x="192.5" y="1497.9" width="25.2" height="25.1" fill="#bd2b33"/>
<rect x="217.4" y="1497.9" width="25.2" height="25.1" fill="#fbece5"/>
<rect x="242.3" y="1497.9" width="25.2" height="25.1" fill="#3e8bc2"/>
<rect x="267.2" y="1497.9" width="25.2" height="25.1" fill="#f5f6f5"/>
<rect x="292.1" y="1497.9" width="25.2" height="25.1" fill="#6daad1"/>
<rect x="167.6" y="1522.7" width="25.2" height="25.1" fill="#f2a282"/>
<rect x="192.5" y="1522.7" width="25.2" height="25.1" fill="#c03237"/>
<rect x="217.4" y="1522.7" width="25.2" height="25.1" fill="#dfeaf2"/>
<rect x="242.3" y="1522.7" width="25.2" height="25.1" fill="#78b5d7"/>
<rect x="267.2" y="1522.7" width="25.2" height="25.1" fill="#fbf0ea"/>
<rect x="292.1" y="1522.7" width="25.2" height="25.1" fill="#4996c7"/>
<rect x="167.6" y="1547.6" width="25.2" height="25.1" fill="#f4a886"/>
<rect x="192.5" y="1547.6" width="25.2" height="25.1" fill="#c03437"/>
<rect x="217.4" y="1547.6" width="25.2" height="25.1" fill="#e4edf4"/>
<rect x="242.3" y="1547.6" width="25.2" height="25.1" fill="#5ca1cc"/>
<rect x="267.2" y="1547.6" width="25.2" height="25.1" fill="#fbece4"/>
<rect x="292.1" y="1547.6" width="25.2" height="25.1" fill="#5ca1cc"/>
<path d="M192.5 1324V1572.4M217.4 1324V1572.4M242.3 1324V1572.4M267.2 1324V1572.4M292.1 1324V1572.4M167.6 1348.8H317M167.6 1373.7H317M167.6 1398.5H317M167.6 1423.4H317M167.6 1448.2H317M167.6 1473H317M167.6 1497.9H317M167.6 1522.7H317M167.6 1547.6H317" stroke="#9a9a9a" stroke-width="1.6" fill="none"/>
<rect x="167.6" y="1324" width="149.4" height="248.4" fill="none" stroke="#000" stroke-width="1.8"/>
<text x="156.5" y="1343.6" text-anchor="end" font-style="italic">Il10</text>
<text x="156.5" y="1368.5" text-anchor="end" font-style="italic">Foxp3</text>
<text x="156.5" y="1393.3" text-anchor="end" font-style="italic">Tnfrsf1b</text>
<text x="156.5" y="1418.1" text-anchor="end" font-style="italic">Ccr8</text>
<text x="156.5" y="1443" text-anchor="end" font-style="italic">Ccl5</text>
<text x="156.5" y="1467.8" text-anchor="end" font-style="italic">Ccl4</text>
<text x="156.5" y="1492.7" text-anchor="end" font-style="italic">Ctla4</text>
<text x="156.5" y="1517.5" text-anchor="end" font-style="italic">Pdcd1</text>
<text x="156.5" y="1542.3" text-anchor="end" font-style="italic">Lag3</text>
<text x="156.5" y="1567.2" text-anchor="end" font-style="italic">Tigit</text>
<defs><linearGradient id="gb" gradientUnits="userSpaceOnUse" x1="0" y1="694.5" x2="0" y2="570.1">
<stop offset="0.0093" stop-color="#053061"/>
<stop offset="0.1088" stop-color="#2166ac"/>
<stop offset="0.2082" stop-color="#4393c3"/>
<stop offset="0.3076" stop-color="#92c5de"/>
<stop offset="0.4070" stop-color="#d1e5f0"/>
<stop offset="0.5064" stop-color="#f7f7f7"/>
<stop offset="0.6058" stop-color="#fddbc7"/>
<stop offset="0.7053" stop-color="#f4a582"/>
<stop offset="0.8047" stop-color="#d6604d"/>
<stop offset="0.9041" stop-color="#b2182b"/>
<stop offset="1.0000" stop-color="#67001f"/>
</linearGradient></defs>
<rect x="340" y="570.1" width="27" height="124.4" fill="url(#gb)"/>
<text x="372" y="581">2</text>
<text x="372" y="610.1">1</text>
<text x="372" y="639.2">0</text>
<text x="372" y="668.3">−1</text>
<text x="372" y="697.4">−2</text>
<path d="M340 573.3h7M359.5 573.3h7.5M340 602.4h7M359.5 602.4h7.5M340 631.5h7M359.5 631.5h7.5M340 660.6h7M359.5 660.6h7.5M340 689.7h7M359.5 689.7h7.5" stroke="#fff" stroke-width="2.2"/>
<text x="340" y="531">Scaled</text>
<text x="340" y="555.8">expression</text>
<defs><linearGradient id="gc" gradientUnits="userSpaceOnUse" x1="0" y1="1123" x2="0" y2="998">
<stop offset="0.0102" stop-color="#053061"/>
<stop offset="0.1089" stop-color="#2166ac"/>
<stop offset="0.2077" stop-color="#4393c3"/>
<stop offset="0.3065" stop-color="#92c5de"/>
<stop offset="0.4052" stop-color="#d1e5f0"/>
<stop offset="0.5040" stop-color="#f7f7f7"/>
<stop offset="0.6028" stop-color="#fddbc7"/>
<stop offset="0.7015" stop-color="#f4a582"/>
<stop offset="0.8003" stop-color="#d6604d"/>
<stop offset="0.8991" stop-color="#b2182b"/>
<stop offset="0.9978" stop-color="#67001f"/>
</linearGradient></defs>
<rect x="338.3" y="998" width="27" height="125" fill="url(#gc)"/>
<text x="370.3" y="1009.6">2</text>
<text x="370.3" y="1038.7">1</text>
<text x="370.3" y="1067.7">0</text>
<text x="370.3" y="1096.8">−1</text>
<text x="370.3" y="1125.8">−2</text>
<path d="M338.3 1001.9h7M357.8 1001.9h7.5M338.3 1031h7M357.8 1031h7.5M338.3 1060h7M357.8 1060h7.5M338.3 1089h7M357.8 1089h7.5M338.3 1118.1h7M357.8 1118.1h7.5" stroke="#fff" stroke-width="2.2"/>
<text x="338.3" y="959.4">Scaled</text>
<text x="338.3" y="983.3">expression</text>
<defs><linearGradient id="gd" gradientUnits="userSpaceOnUse" x1="0" y1="1516" x2="0" y2="1391.9">
<stop offset="0.0079" stop-color="#053061"/>
<stop offset="0.1072" stop-color="#2166ac"/>
<stop offset="0.2065" stop-color="#4393c3"/>
<stop offset="0.3058" stop-color="#92c5de"/>
<stop offset="0.4051" stop-color="#d1e5f0"/>
<stop offset="0.5044" stop-color="#f7f7f7"/>
<stop offset="0.6037" stop-color="#fddbc7"/>
<stop offset="0.7031" stop-color="#f4a582"/>
<stop offset="0.8024" stop-color="#d6604d"/>
<stop offset="0.9017" stop-color="#b2182b"/>
<stop offset="1.0000" stop-color="#67001f"/>
</linearGradient></defs>
<rect x="338.3" y="1391.9" width="27" height="124.1" fill="url(#gd)"/>
<text x="370.3" y="1403.1">2</text>
<text x="370.3" y="1432.1">1</text>
<text x="370.3" y="1461.1">0</text>
<text x="370.3" y="1490.1">−1</text>
<text x="370.3" y="1519.1">−2</text>
<path d="M338.3 1395.4h7M357.8 1395.4h7.5M338.3 1424.4h7M357.8 1424.4h7.5M338.3 1453.4h7M357.8 1453.4h7.5M338.3 1482.4h7M357.8 1482.4h7.5M338.3 1511.4h7M357.8 1511.4h7.5" stroke="#fff" stroke-width="2.2"/>
<text x="338.3" y="1352.7">Scaled</text>
<text x="338.3" y="1376.6">expression</text>
<path d="M53.8 1058.2H331" stroke="#000" stroke-width="2" stroke-dasharray="3.2 2.6"/>
<text transform="translate(45 639.7) rotate(-90)" text-anchor="middle">Tumour TAM</text>
<text transform="translate(45 1068) rotate(-90)" text-anchor="middle">Tumour CD8<tspan font-size="13.5" dy="-7">+</tspan><tspan dy="7"> T</tspan></text>
<text transform="translate(83.3 965.6) rotate(-90)" text-anchor="middle">Memory-like</text>
<text transform="translate(83.3 1178) rotate(-90)" text-anchor="middle">Exhausted</text>
<text transform="translate(45 1476) rotate(-90)" text-anchor="middle">Tumour T<tspan font-size="14" dy="5">reg</tspan></text>
<text x="156.8" y="1590.5" text-anchor="end">Control</text>
<text x="156.8" y="1614.3" text-anchor="end">Anti-PD-L1</text>
<text x="156.8" y="1638.1" text-anchor="end">Anti-TIGIT IgG2b</text>
<text x="156.8" y="1662.2" text-anchor="end">Anti-TIGIT IgG2a</text>
<text x="176.2" y="1594.9" text-anchor="middle">+</text>
<text x="201.8" y="1594.9" text-anchor="middle">−</text>
<text x="227.3" y="1594.9" text-anchor="middle">−</text>
<text x="252.8" y="1594.9" text-anchor="middle">−</text>
<text x="278.4" y="1594.9" text-anchor="middle">−</text>
<text x="303.9" y="1594.9" text-anchor="middle">−</text>
<text x="176.2" y="1618.5" text-anchor="middle">−</text>
<text x="201.8" y="1618.5" text-anchor="middle">+</text>
<text x="227.3" y="1618.5" text-anchor="middle">−</text>
<text x="252.8" y="1618.5" text-anchor="middle">−</text>
<text x="278.4" y="1618.5" text-anchor="middle">+</text>
<text x="303.9" y="1618.5" text-anchor="middle">+</text>
<text x="176.2" y="1642.2" text-anchor="middle">−</text>
<text x="201.8" y="1642.2" text-anchor="middle">−</text>
<text x="227.3" y="1642.2" text-anchor="middle">+</text>
<text x="252.8" y="1642.2" text-anchor="middle">−</text>
<text x="278.4" y="1642.2" text-anchor="middle">+</text>
<text x="303.9" y="1642.2" text-anchor="middle">−</text>
<text x="176.2" y="1665.7" text-anchor="middle">−</text>
<text x="201.8" y="1665.7" text-anchor="middle">−</text>
<text x="227.3" y="1665.7" text-anchor="middle">−</text>
<text x="252.8" y="1665.7" text-anchor="middle">+</text>
<text x="278.4" y="1665.7" text-anchor="middle">−</text>
<text x="303.9" y="1665.7" text-anchor="middle">+</text>
<path d="M681.7 712.7h2.8M684.8 706.1h2.8M683.7 730.7h2.8M679.2 742.6h2.8M679 736.4h2.8M679.3 707.6h2.8M682.6 769.5h2.8M679.8 718.8h2.8M684.6 779.6h2.8M684.1 733.3h2.8M687.9 703.9h2.8M686.8 724.3h2.8M680 709.9h2.8M681.5 768.6h2.8M680.3 748.9h2.8M684.7 731.3h2.8M683.8 705.3h2.8M679.2 717.3h2.8M685.1 735.9h2.8M681.6 749.2h2.8M682.9 725.2h2.8M686.1 758.7h2.8M680.9 748.3h2.8M683.6 773.5h2.8M685.5 724.2h2.8M687.9 709.9h2.8M682.6 763.6h2.8M680 741.1h2.8M679 756.1h2.8M685.9 748.1h2.8M739.8 729.8h2.8M738.6 752h2.8M737.9 741h2.8M739.6 779.6h2.8M737.2 757.5h2.8M734.5 760.4h2.8M738.3 783.5h2.8M739.4 727.5h2.8M736.6 757.8h2.8M734.2 741.5h2.8M735.2 714.3h2.8M734.5 765.7h2.8M734.9 724.6h2.8M736.6 773.8h2.8M734.6 740.5h2.8M737.7 774.8h2.8M739.4 773.3h2.8M735.9 737.8h2.8M736.4 774.9h2.8M740.3 716.9h2.8M735.2 723.3h2.8M735.6 743.3h2.8M737.9 725.8h2.8M734.1 738.1h2.8M736.5 749.7h2.8M740.3 759.5h2.8M737.5 753.8h2.8M738.5 709.3h2.8M739.9 766.6h2.8M739.8 768h2.8M736.7 736.5h2.8M734.8 755.1h2.8M734.5 710.3h2.8M735.5 717.8h2.8M736.3 709.2h2.8M734.1 716.9h2.8M734.8 733.7h2.8M734.3 774.1h2.8M738.1 716.7h2.8M735.7 732.4h2.8M745.3 710.3h2.8M751.6 783.4h2.8M746.7 740.6h2.8M741.7 708.6h2.8M745.1 722.2h2.8M751.4 713.6h2.8M740.9 779.9h2.8M747.5 712.3h2.8M747.7 702.3h2.8M747.5 782.2h2.8M751.8 758.5h2.8M744 730.8h2.8M742.8 764.8h2.8M747.5 765.4h2.8M694.5 669.8h2.8M708.9 689.6h2.8M710.2 685h2.8M709.1 683.2h2.8M691.4 677.5h2.8M695.3 664.8h2.8M685.4 671.3h2.8M692.4 682h2.8M713.3 675.6h2.8M712.7 689.7h2.8M713.3 673.5h2.8M691.2 669.9h2.8M690.5 669.3h2.8M703.3 687.4h2.8M709.8 676.5h2.8M704.2 684.8h2.8M687.1 681.2h2.8M711.9 684.3h2.8M707.1 676.4h2.8M690 684.5h2.8M694.6 684.8h2.8M713.7 674.3h2.8M696.6 688.6h2.8M706.3 668.4h2.8M688.4 667.9h2.8M711.7 685h2.8M689 685.5h2.8M714 681.1h2.8M724.8 689.2h2.8M718.4 670.5h2.8M742.8 692.7h2.8M729.9 702.7h2.8M727.2 700.5h2.8M738.6 677.4h2.8M721.9 680.3h2.8M721.6 690.5h2.8M722.1 684.7h2.8M718.4 701.9h2.8M724.9 686h2.8M731.5 701.7h2.8M726.8 702.1h2.8M729.1 688.6h2.8M729.8 670.7h2.8M727.4 676.4h2.8M714.7 698h2.8M719.6 686.6h2.8M735.6 689.5h2.8M724.1 688.1h2.8M718.6 684.9h2.8M678.1 669.2h2.8M691 649.4h2.8M738.1 665.5h2.8M719.2 683.2h2.8M750.7 661h2.8M723.7 665.4h2.8M714.7 678.5h2.8M709.3 667.3h2.8M711.6 695.9h2.8M731.5 691.4h2.8M753.4 648.2h2.8M719 696h2.8M744.2 639.6h2.8M679.5 660.9h2.8M675.1 646.8h2.8M675.2 676.9h2.8M739.2 692.8h2.8M665.4 480.2h2.8M627.7 563.4h2.8M750.9 578.7h2.8M612.4 586.1h2.8M653.1 590.2h2.8M683 589.5h2.8M641.6 620.8h2.8M699.3 620.8h2.8M718 621.1h2.8M692.5 633h2.8M750.9 632h2.8M676.2 645.9h2.8M711.2 642.5h2.8M742.4 637h2.8M636.5 683.9h2.8M603.9 776.9h2.8M856.1 781.3h2.8M782.1 775.6h2.8M771.3 754.2h2.8M655.8 701.6h2.8M660.9 718.5h2.8M688.6 655h2.8M698.6 612h2.8M743.6 650h2.8M756.6 700h2.8M746.6 760h2.8M666.6 770h2.8M670.6 760h2.8M758.6 745h2.8M663.6 730h2.8" stroke="#959595" stroke-width="2.8" fill="none"/>
<path d="M689.5 784L689.5 700L692 688L697 680L703 677L709 681L712.5 690L713.6 728L715.4 728L716.5 700L720 691L727 689L733 694L735.5 706L736.5 784Z" fill="#959595" stroke="#959595" stroke-width="1.5" stroke-linejoin="round"/>
<path d="M689.3 446.1V798.9" stroke="#1a1a1a" stroke-width="1.6" stroke-dasharray="6.5 4.2"/>
<path d="M734.5 446.1V798.9" stroke="#1a1a1a" stroke-width="1.6" stroke-dasharray="6.5 4.2"/>
<path d="M522.5 702.3H901.7" stroke="#333" stroke-width="1.6" stroke-dasharray="8 4.5"/>
<circle cx="753.2" cy="687.6" r="5.9" fill="#ff0000"/>
<circle cx="766.7" cy="711.9" r="5.9" fill="#ff0000"/>
<circle cx="726.9" cy="705.1" r="5.9" fill="#ff0000"/>
<circle cx="724.3" cy="720.7" r="5.9" fill="#ff0000"/>
<circle cx="722.4" cy="742.8" r="5.9" fill="#ff0000"/>
<circle cx="673.7" cy="732.6" r="5.9" fill="#ff0000"/>
<circle cx="703.9" cy="775.6" r="5.9" fill="#ff0000"/>
<circle cx="715.2" cy="771.1" r="5.9" fill="#ff0000"/>
<circle cx="714.1" cy="780.7" r="5.9" fill="#ff0000"/>
<circle cx="721.2" cy="781.8" r="5.9" fill="#ff0000"/>
<circle cx="729.4" cy="773.3" r="5.9" fill="#ff0000"/>
<path d="M670.6 745L703.9 774.5M681.3 766.5L704.5 777.3M737.3 768.2L730.5 773.3M767.9 706L766.5 710.5M722.6 703.2L729.4 703.2" stroke="#000" stroke-width="1.3" fill="none"/>
<text x="733.9" y="682.2" font-size="18.5" font-style="italic">H2-Q6</text>
<text x="755.4" y="706" font-size="18.5" font-style="italic">Spp1</text>
<text x="661.5" y="699.8" font-size="18.5" font-style="italic">H2-zK1</text>
<text x="676.2" y="722.4" font-size="18.5" font-style="italic">B2m</text>
<text x="727.7" y="739.4" font-size="18.5" font-style="italic">H2-D1</text>
<text x="616.5" y="728.7" font-size="18.5" font-style="italic">Cxcl9</text>
<text x="619" y="750.8" font-size="18.5" font-style="italic">Cd74</text>
<text x="688.7" y="767.1" font-size="18.5" font-style="italic">Tap2</text>
<text x="650.2" y="773.3" font-size="18.5" font-style="italic">Irf1</text>
<text x="739.6" y="773.9" font-size="18.5" font-style="italic">Tap1</text>
<text x="664.3" y="795.4" font-size="18.5" font-style="italic">Stat1</text>
<text x="726.6" y="795.4" font-size="18.5" font-style="italic">Fcgr4</text>
<rect x="522.5" y="446.1" width="379.2" height="352.8" fill="none" stroke="#000" stroke-width="2.3"/>
<text x="511.5" y="790" text-anchor="end">0</text>
<text x="511.5" y="709.7" text-anchor="end">2</text>
<text x="511.5" y="629.4" text-anchor="end">4</text>
<text x="511.5" y="549" text-anchor="end">6</text>
<text x="511.5" y="468.7" text-anchor="end">8</text>
<path d="M515.7 782.6H522.5M515.7 702.3H522.5M515.7 622H522.5M515.7 541.6H522.5M515.7 461.3H522.5" stroke="#000" stroke-width="1.9"/>
<text x="539" y="826.2" text-anchor="middle">−2</text>
<text x="625.3" y="826.2" text-anchor="middle">−1</text>
<text x="711.6" y="826.2" text-anchor="middle">0</text>
<text x="797.9" y="826.2" text-anchor="middle">1</text>
<text x="884.2" y="826.2" text-anchor="middle">2</text>
<path d="M539 798.9V805.7M625.3 798.9V805.7M711.6 798.9V805.7M797.9 798.9V805.7M884.2 798.9V805.7" stroke="#000" stroke-width="1.9"/>
<text transform="translate(469.3 621.8) rotate(-90)" text-anchor="middle">–log<tspan font-size="14" dy="5">10</tspan><tspan dy="-5">[</tspan><tspan font-style="italic">P</tspan>]</text>
<path d="M1163.5 767.9h2.8M1173.1 723.2h2.8M1177.4 787.5h2.8M1164.8 786.3h2.8M1168.2 750h2.8M1179.4 776.9h2.8M1163.7 745.7h2.8M1170.4 738.5h2.8M1164.3 736.8h2.8M1174.3 713.5h2.8M1171.1 746.4h2.8M1160.9 737.9h2.8M1172.5 752h2.8M1161.8 788.8h2.8M1175.6 787.8h2.8M1162.6 732.7h2.8M1161.4 772.8h2.8M1165.7 722.1h2.8M1168.6 783.1h2.8M1176.2 732.2h2.8M1163.4 783.7h2.8M1171.4 766.6h2.8M1162.3 716.5h2.8M1173.7 745.2h2.8M1162 785.2h2.8M1172.7 774.5h2.8M1162.2 778.8h2.8M1161.9 779.3h2.8M1169.2 738.5h2.8M1171.1 784.3h2.8M1165.7 722.1h2.8M1170.6 730.6h2.8M1162.7 724.6h2.8M1161.6 727.7h2.8M1166.5 735.8h2.8M1175 734.6h2.8M1170.1 725.9h2.8M1167.2 713.4h2.8M1165.4 713.2h2.8M1174.5 755h2.8M1164.2 749h2.8M1178.4 720.3h2.8M1176.2 745.7h2.8M1170 777.1h2.8M1168.1 751.5h2.8M1173.7 788.6h2.8M1167.1 776.9h2.8M1174 761.6h2.8M1168.3 739.1h2.8M1161.6 722.1h2.8M1161.9 769.8h2.8M1165.5 724.7h2.8M1162.2 777.6h2.8M1177.1 764.3h2.8M1166 730.9h2.8M1166.2 747.8h2.8M1163.6 746.8h2.8M1165.6 787h2.8M1179.1 754.7h2.8M1165.2 787.3h2.8M1166.5 739.8h2.8M1160.6 741.8h2.8M1169.6 751.2h2.8M1164.4 751.4h2.8M1160.7 732.6h2.8M1162.3 743.2h2.8M1161.4 713.8h2.8M1166.4 730.2h2.8M1171.7 753.3h2.8M1174.9 763.3h2.8M1174.2 780.6h2.8M1168 737.4h2.8M1179.3 723.7h2.8M1174.4 762.2h2.8M1161.4 777.2h2.8M1177.5 760.9h2.8M1174.5 775.4h2.8M1163.2 752.9h2.8M1170.2 777.1h2.8M1175.9 776.5h2.8M1171.7 781.6h2.8M1173.6 766.1h2.8M1165 714.4h2.8M1163.1 740.1h2.8M1162.6 777.2h2.8M1171.2 761h2.8M1172.5 765.1h2.8M1169.9 712.3h2.8M1175.8 770.4h2.8M1170.2 753.7h2.8M1173.1 717.2h2.8M1174.6 731.7h2.8M1162 732.7h2.8M1174.5 728h2.8M1174.7 788.1h2.8M1170 741.8h2.8M1169.7 765.3h2.8M1175.2 760.1h2.8M1172.8 718h2.8M1163.4 731.8h2.8M1174.7 735.7h2.8M1171.4 713h2.8M1161.8 733h2.8M1173.4 766h2.8M1173.4 734.7h2.8M1170.4 748.2h2.8M1169.5 721.2h2.8M1177.6 727.5h2.8M1179.2 785h2.8M1160.9 747.8h2.8M1238.3 787.1h2.8M1233.4 724.2h2.8M1230.3 785.1h2.8M1230.3 752.3h2.8M1229.4 747.2h2.8M1240 711.9h2.8M1238.3 745.8h2.8M1239.1 763.3h2.8M1230.6 780.8h2.8M1233.9 702.2h2.8M1227.6 744.3h2.8M1233.5 727.2h2.8M1229.4 731h2.8M1231.7 775.6h2.8M1227.6 767.6h2.8M1238.5 710.8h2.8M1239.6 764.2h2.8M1239.3 726.1h2.8M1232.4 735.4h2.8M1240.6 753h2.8M1232.3 738.5h2.8M1231.2 704.3h2.8M1228.9 775.1h2.8M1231.3 784.2h2.8M1230.8 723.9h2.8M1234.2 717.1h2.8M1232.5 786.1h2.8M1239.1 773.1h2.8M1235.8 782.2h2.8M1239.8 749.4h2.8M1237 704.5h2.8M1237.1 740.6h2.8M1237.4 758h2.8M1231.3 704.4h2.8M1239.6 711.5h2.8M1199 671.2h2.8M1185.9 689.7h2.8M1236.8 667.2h2.8M1212.8 669.1h2.8M1205.4 673.5h2.8M1176.1 662.6h2.8M1179.2 697.6h2.8M1200.9 665.3h2.8M1231.6 701.8h2.8M1197.3 661.6h2.8M1178 659.3h2.8M1189.2 659.3h2.8M1181.5 667.1h2.8M1206.3 696.7h2.8M1219.8 674.4h2.8M1194.6 679.6h2.8M1191.9 670.9h2.8M1168.3 668h2.8M1236.2 660.9h2.8M1201.4 684.6h2.8M1228.3 665.2h2.8M1183.9 666.7h2.8M1193.6 676h2.8M1235.1 694.9h2.8M1229.1 656h2.8M1166 688.3h2.8M1230.8 677.2h2.8M1207.6 655h2.8M1193 698.6h2.8M1225.5 695.2h2.8M1236.5 666.7h2.8M1171.8 662.3h2.8M1202.8 687.1h2.8M1234.2 688.9h2.8M1212.2 690.9h2.8M1197.9 680.9h2.8M1166.6 691.8h2.8M1181 698.2h2.8M1212 669.3h2.8M1173.2 666.8h2.8M1211.3 687.8h2.8M1172 658.3h2.8M1202.9 682.4h2.8M1192.7 665.5h2.8M1208.7 655.5h2.8M1186.2 676.7h2.8M1235.5 685.3h2.8M1229.9 677.3h2.8M1181.2 666.6h2.8M1235.6 688.1h2.8M1186.7 656h2.8M1201 686.7h2.8M1195.1 667.1h2.8M1213.7 698.5h2.8M1180.6 656.6h2.8M1182.4 631.8h2.8M1216.9 622.9h2.8M1228.3 644.6h2.8M1199.1 623.2h2.8M1245.6 627.5h2.8M1230.6 624.2h2.8M1170.7 645.4h2.8M1178.1 653.1h2.8M1198.2 622.5h2.8M1170.9 631.7h2.8M1215.1 653h2.8M1163.2 630.7h2.8M1169.9 654h2.8M1162.8 617.1h2.8M1154.6 630.7h2.8M1089.5 736.5h2.8M1111.7 731.2h2.8M1120.3 750h2.8M1105.9 775.8h2.8M1128.2 686h2.8M1144.2 751.8h2.8M1116.9 626.2h2.8M1156.2 640.5h2.8M1173.3 617.6h2.8M1278.4 687.4h2.8M1300 786h2.8M1147.6 668h2.8M1164.8 645.6h2.8M1098.6 698h2.8M1260.6 705h2.8M1268.6 740h2.8M1253.6 770h2.8M1133.6 770h2.8M1138.6 700h2.8M1148.6 780h2.8M1243.6 735h2.8M1248.6 700h2.8M1128.8 461.5h2.8M1260.6 455h2.8" stroke="#959595" stroke-width="2.8" fill="none"/>
<path d="M1180 790L1180 703L1190 698L1198 700L1204 706L1205.5 726L1207.8 726L1209 697L1220 692L1229 698L1230 790Z" fill="#959595" stroke="#959595" stroke-width="1.5" stroke-linejoin="round"/>
<path d="M1183.7 491.8V802.4" stroke="#1a1a1a" stroke-width="1.6" stroke-dasharray="6.5 4.2"/>
<path d="M1183.7 450.6V485.2" stroke="#1a1a1a" stroke-width="1.6" stroke-dasharray="6.5 4.2"/>
<path d="M1229 491.8V802.4" stroke="#1a1a1a" stroke-width="1.6" stroke-dasharray="6.5 4.2"/>
<path d="M1229 450.6V485.2" stroke="#1a1a1a" stroke-width="1.6" stroke-dasharray="6.5 4.2"/>
<path d="M1017.1 713.8H1395.5" stroke="#333" stroke-width="1.6" stroke-dasharray="8 4.5"/>
<circle cx="1242.5" cy="547.4" r="5.9" fill="#ff0000"/>
<circle cx="1237.4" cy="591.9" r="5.9" fill="#ff0000"/>
<circle cx="1252" cy="609.2" r="5.9" fill="#ff0000"/>
<circle cx="1251.3" cy="617.7" r="5.9" fill="#ff0000"/>
<circle cx="1255.6" cy="626.2" r="5.9" fill="#ff0000"/>
<circle cx="1256.3" cy="642.1" r="5.9" fill="#ff0000"/>
<circle cx="1242.9" cy="679.9" r="5.9" fill="#ff0000"/>
<circle cx="1218.8" cy="713.9" r="5.9" fill="#ff0000"/>
<circle cx="1219.5" cy="759.8" r="5.9" fill="#ff0000"/>
<circle cx="1244.3" cy="761" r="5.9" fill="#ff0000"/>
<circle cx="1194.1" cy="783.2" r="5.9" fill="#ff0000"/>
<path d="M1174.3 791.7L1192.6 783.5" stroke="#000" stroke-width="1.3" fill="none"/>
<text x="1196.3" y="566.2" font-size="18.5" font-style="italic">H2-K1</text>
<text x="1166.9" y="588" font-size="18.5" font-style="italic">H2-D1</text>
<text x="1251.8" y="603.9" font-size="18.5" font-style="italic">Irf1</text>
<text x="1199" y="630.4" font-size="18.5" font-style="italic">Stat1</text>
<text x="1262.7" y="637.5" font-size="18.5" font-style="italic">Tap1</text>
<text x="1185.6" y="652.3" font-size="18.5" font-style="italic">H2-Q6</text>
<text x="1236.5" y="674.3" font-size="18.5" font-style="italic">Tap2</text>
<text x="1211.7" y="708.9" font-size="18.5" font-style="italic">B2m</text>
<text x="1209.6" y="752.8" font-size="18.5" font-style="italic">Cd74</text>
<text x="1240.7" y="779.6" font-size="18.5" font-style="italic">Cxcl9</text>
<text x="1180.6" y="777.5" font-size="18.5" font-style="italic">Fcgr4</text>
<text x="1124.8" y="798" font-size="18.5" font-style="italic">Spp1</text>
<rect x="1017.1" y="491.8" width="378.4" height="310.6" fill="none" stroke="#000" stroke-width="2.3"/>
<rect x="1017.1" y="450.6" width="378.4" height="34.6" fill="none" stroke="#000" stroke-width="2.3"/>
<path d="M1089.2 484.7H1303.3" stroke="#000" stroke-width="3"/>
<text x="1003.6" y="795.1" text-anchor="end">0</text>
<text x="1003.6" y="721.2" text-anchor="end">2</text>
<text x="1003.6" y="647.3" text-anchor="end">4</text>
<text x="1003.6" y="573.3" text-anchor="end">6</text>
<text x="1003.6" y="506.1" text-anchor="end">8</text>
<path d="M1010.3 787.7H1017.1M1010.3 713.8H1017.1M1010.3 639.9H1017.1M1010.3 565.9H1017.1M1010.3 492H1017.1" stroke="#000" stroke-width="1.9"/>
<text x="1003.6" y="460.8" text-anchor="end">14</text>
<text x="1003.6" y="488.2" text-anchor="end">8</text>
<path d="M1010.3 452.3H1017.1M1010.3 485.2H1017.1" stroke="#000" stroke-width="1.9"/>
<text x="1034.2" y="829.7" text-anchor="middle">−2</text>
<text x="1120.4" y="829.7" text-anchor="middle">−1</text>
<text x="1206.6" y="829.7" text-anchor="middle">0</text>
<text x="1292.8" y="829.7" text-anchor="middle">1</text>
<text x="1379" y="829.7" text-anchor="middle">2</text>
<path d="M1034.2 802.4V809.2M1120.4 802.4V809.2M1206.6 802.4V809.2M1292.8 802.4V809.2M1379 802.4V809.2" stroke="#000" stroke-width="1.9"/>
<text transform="translate(957.8 622.6) rotate(-90)" text-anchor="middle">–log<tspan font-size="14" dy="5">10</tspan><tspan dy="-5">[</tspan><tspan font-style="italic">P</tspan>]</text>
<path d="M736.8 1188h2.8M725.7 1196.8h2.8M739 1145.4h2.8M689 1192.1h2.8M726.6 1122.5h2.8M721.1 1149.2h2.8M701.7 1145.5h2.8M687.9 1120.2h2.8M695.3 1147.1h2.8M740.6 1129.5h2.8M741.2 1136h2.8M700.5 1183.3h2.8M731.7 1153.3h2.8M679.9 1156.5h2.8M701.6 1190.8h2.8M689.5 1148h2.8M736.7 1122.3h2.8M704.1 1182.5h2.8M728 1123.1h2.8M678.9 1124.8h2.8M738.2 1139.8h2.8M726.7 1189.2h2.8M699.3 1141h2.8M740.8 1167.5h2.8M694.2 1175.2h2.8M697.8 1141.2h2.8M676.9 1178.2h2.8M738 1168.8h2.8M739.8 1121.9h2.8M692.3 1156.6h2.8M740.7 1193.5h2.8M702.5 1139.3h2.8M705.4 1158h2.8M738.8 1134.1h2.8M730.4 1176.9h2.8M731.7 1179.5h2.8M717.3 1145.2h2.8M698 1147.9h2.8M729 1126.1h2.8M689.8 1178h2.8M693.2 1125h2.8M678.9 1162.5h2.8M698.4 1195.5h2.8M735.8 1196.1h2.8M694.3 1126.5h2.8M683.1 1158.4h2.8M724.2 1154.4h2.8M692.3 1152.1h2.8M718.2 1171.9h2.8M726.7 1185.2h2.8M721.1 1129.3h2.8M732.9 1142.6h2.8M714.6 1148.7h2.8M726.1 1135.3h2.8M693.2 1138.9h2.8M686.9 1188.1h2.8M715.3 1145.1h2.8M703.1 1196.4h2.8M710.6 1137.8h2.8M730.8 1170.3h2.8M743 1127.9h2.8M708.4 1183.1h2.8M732.9 1190.4h2.8M679.3 1142.6h2.8M684.6 1134.6h2.8M741.8 1164.9h2.8M738.9 1148.7h2.8M734.6 1154.6h2.8M694 1179.9h2.8M740 1128.1h2.8M716.5 1167.7h2.8M691.2 1148.4h2.8M686.1 1135.7h2.8M693.7 1166.2h2.8M720.3 1135.7h2.8M677.4 1145.2h2.8M722 1134.3h2.8M697.5 1135.7h2.8M729.9 1162.2h2.8M680.8 1127.8h2.8M703.1 1162.4h2.8M719.4 1127h2.8M687.6 1173.5h2.8M704.1 1141.8h2.8M697.2 1193.4h2.8M697.5 1163.6h2.8M700.5 1152.1h2.8M734.5 1196.7h2.8M701 1135.2h2.8M725.4 1135.7h2.8M677 1189.4h2.8M705 1183.2h2.8M703.8 1188h2.8M707.5 1132.5h2.8M677.6 1162.5h2.8M719.5 1190.1h2.8M682.6 1167.9h2.8M701.4 1158.8h2.8M686.4 1141.8h2.8M711.5 1191.3h2.8M683.9 1157.8h2.8M730.5 1194.4h2.8M689.8 1129.8h2.8M739.8 1195.1h2.8M708.9 1124.1h2.8M738.7 1149.9h2.8M737.2 1167.8h2.8M731.8 1132.3h2.8M729.3 1137.1h2.8M703.7 1185.2h2.8M735.9 1094.1h2.8M708.4 1105h2.8M721.9 1104.2h2.8M704.1 1097.4h2.8M731.2 1129.9h2.8M700.4 1113.1h2.8M732.7 1086.9h2.8M736.3 1090.9h2.8M725.6 1112.5h2.8M726.8 1100.3h2.8M717.5 1114.1h2.8M717.8 1117.9h2.8M718.7 1106.9h2.8M699.7 1115.9h2.8M720.6 1096.8h2.8M733 1124h2.8M719.2 1094h2.8M719.9 1090.4h2.8M704.4 1106.5h2.8M702.7 1107.1h2.8M721.6 1087h2.8M727.2 1089.1h2.8M731.6 1123.9h2.8M721.6 1087.7h2.8M721.3 1103.9h2.8M741.4 1091.8h2.8M737.2 1134.8h2.8M731.5 1125.7h2.8M678 1099.1h2.8M707.8 1097.8h2.8M750.2 1058.3h2.8M737.4 1096.5h2.8M665.2 1067.5h2.8M734.2 1057.9h2.8M748.3 1063.7h2.8M740.2 1057.2h2.8M708.8 1096h2.8M679.4 1063.1h2.8M709.2 1066h2.8M662.3 1059.1h2.8M644.6 961.2h2.8M649.7 1008.7h2.8M685.4 1015.8h2.8M727.1 998.2h2.8M685.4 1031.8h2.8M647.4 1051.1h2.8M648.4 1060.6h2.8M676.2 1053.9h2.8M672.8 1057.2h2.8M657.6 1070.1h2.8M662.6 1070.1h2.8M646.3 1081.7h2.8M669.4 1077.6h2.8M659.9 1092.9h2.8M755 1061.3h2.8M754.3 1091.9h2.8M737.3 1081.7h2.8M739 1104.1h2.8M750.9 1117.7h2.8M632.1 1132.6h2.8M652.4 1140.4h2.8M647.4 1121.7h2.8M719.6 1082h2.8M721.6 1085h2.8M723.6 1088h2.8M720.6 1091h2.8M725.6 1079h2.8M733.6 1130h2.8M738.6 1150h2.8M746.6 1170h2.8M743.6 1185h2.8M608.3 859.3h2.8M635.5 888.2h2.8M858.9 890.2h2.8" stroke="#959595" stroke-width="2.8" fill="none"/>
<path d="M690 1162L700 1158L710 1156L716 1150L722 1146L730 1150L731 1195L690 1197Z" fill="#959595" stroke="#959595" stroke-width="1.5" stroke-linejoin="round"/>
<path d="M713.7 1148.6h2.8M723.5 1147.7h2.8M713.8 1145.3h2.8M712.8 1139.7h2.8M722.7 1135.9h2.8M727.2 1140.2h2.8M721.6 1147.4h2.8M712.6 1149.8h2.8M722.6 1136.7h2.8M725.8 1133.8h2.8M729.4 1140.7h2.8M717.4 1144.8h2.8M719 1131.9h2.8M724.7 1129.1h2.8M726.2 1133.6h2.8M722.7 1149.6h2.8M721.7 1142.6h2.8M716.5 1128h2.8M711.2 1131.3h2.8M722.3 1137.5h2.8M720.3 1147.7h2.8M713.1 1133h2.8M723 1128.5h2.8M710.6 1135.8h2.8M712.6 1135.9h2.8M714.9 1140.8h2.8M721.8 1132.5h2.8M722.5 1138.4h2.8M713.2 1148.6h2.8M715.2 1131.3h2.8M712.4 1142h2.8M727.2 1145.2h2.8M718.2 1133.8h2.8M710.8 1142.2h2.8M721.3 1135.7h2.8M722.9 1137.8h2.8M728.4 1144.1h2.8M715.3 1147.9h2.8M711.4 1139.7h2.8M718.3 1133.2h2.8M711.7 1145.1h2.8M710.8 1140.1h2.8M728.5 1131.1h2.8M714.4 1141.4h2.8M720.2 1142.1h2.8" stroke="#959595" stroke-width="2.8" fill="none"/>
<path d="M686.2 899.3V1210" stroke="#1a1a1a" stroke-width="1.6" stroke-dasharray="6.5 4.2"/>
<path d="M686.2 857.7V892.4" stroke="#1a1a1a" stroke-width="1.6" stroke-dasharray="6.5 4.2"/>
<path d="M730.2 899.3V1210" stroke="#1a1a1a" stroke-width="1.6" stroke-dasharray="6.5 4.2"/>
<path d="M730.2 857.7V892.4" stroke="#1a1a1a" stroke-width="1.6" stroke-dasharray="6.5 4.2"/>
<path d="M524.7 1187.6H892.2" stroke="#333" stroke-width="1.6" stroke-dasharray="8 4.5"/>
<circle cx="704.4" cy="1165" r="5.9" fill="#cd8500"/>
<circle cx="699" cy="1184.5" r="5.9" fill="#cd8500"/>
<circle cx="696.2" cy="1194.4" r="5.9" fill="#cd8500"/>
<circle cx="704.7" cy="1195.8" r="5.9" fill="#cd8500"/>
<circle cx="711.7" cy="1195.8" r="5.9" fill="#cd8500"/>
<circle cx="693.4" cy="1187.3" r="5.9" fill="#cd8500"/>
<circle cx="685.9" cy="1136.4" r="5.9" fill="#1e90ff"/>
<circle cx="684.4" cy="1148.4" r="5.9" fill="#1e90ff"/>
<circle cx="688.4" cy="1156.2" r="5.9" fill="#1e90ff"/>
<circle cx="694.1" cy="1171.7" r="5.9" fill="#1e90ff"/>
<circle cx="720.2" cy="1177.4" r="5.9" fill="#1e90ff"/>
<circle cx="711.7" cy="1190.1" r="5.9" fill="#1e90ff"/>
<path d="M671.4 1115.2L684.9 1137.1M695.5 1119.1L686.6 1135M719.5 1133.3L689.4 1154.5M646 1156.2L691.9 1186.6M683.5 1160.4L692 1171.7M741.4 1157.6L718.8 1177.4M806.6 1155.5L713.2 1189.4M752.8 1178.8L713.2 1188.7M661.5 1178.1L697.6 1193M610.6 1177.4L697.6 1193.7M634 1199.3L699 1194.4M696.2 1198.6L705.4 1195M771.1 1199.3L709.6 1193.7" stroke="#000" stroke-width="1.3" fill="none"/>
<text x="618.4" y="1114.5" font-size="18.5" font-style="italic">Pdcd1</text>
<text x="694.1" y="1114.5" font-size="18.5" font-style="italic">Tigit</text>
<text x="721.6" y="1133.6" font-size="18.5" font-style="italic">Lag3</text>
<text x="652.3" y="1142" font-size="18.5" font-style="italic">Id2</text>
<text x="614.9" y="1161.8" font-size="18.5" font-style="italic">Il7r</text>
<text x="653" y="1164" font-size="18.5" font-style="italic">Tox</text>
<text x="699.7" y="1160.4" font-size="18.5" font-style="italic">Klf2</text>
<text x="744.3" y="1154.1" font-size="18.5" font-style="italic">Nr4a2</text>
<text x="806.6" y="1162.5" font-size="18.5" font-style="italic">Havcr2</text>
<text x="571.7" y="1184.5" font-size="18.5" font-style="italic">Tcf7</text>
<text x="616.3" y="1183" font-size="18.5" font-style="italic">Ccr7</text>
<text x="681.3" y="1183" font-size="18.5" font-style="italic">Slamf6</text>
<text x="752.8" y="1185.2" font-size="18.5" font-style="italic">Cxcr6</text>
<text x="594.5" y="1206" font-size="18.5" font-style="italic">Lef1</text>
<text x="638.2" y="1205" font-size="18.5" font-style="italic">S1pr1</text>
<text x="718.8" y="1205" font-size="18.5" font-style="italic">Itgb7</text>
<text x="772.6" y="1205" font-size="18.5" font-style="italic">Sell</text>
<circle cx="757.4" cy="924.2" r="5.2" fill="#1e90ff"/>
<circle cx="757.4" cy="942.5" r="5.2" fill="#cd8500"/>
<text x="768.6" y="932.1">Exhausted</text>
<text x="768.6" y="950.3">Memory-like</text>
<rect x="524.7" y="899.3" width="367.5" height="310.7" fill="none" stroke="#000" stroke-width="2.3"/>
<rect x="524.7" y="857.7" width="367.5" height="34.7" fill="none" stroke="#000" stroke-width="2.3"/>
<path d="M608 891.9H861" stroke="#000" stroke-width="3"/>
<text x="511.5" y="1202.4" text-anchor="end">0</text>
<text x="511.5" y="1128.7" text-anchor="end">20</text>
<text x="511.5" y="1055" text-anchor="end">40</text>
<text x="511.5" y="981.4" text-anchor="end">60</text>
<text x="511.5" y="915.9" text-anchor="end">80</text>
<path d="M517.9 1195H524.7M517.9 1121.3H524.7M517.9 1047.6H524.7M517.9 974H524.7M517.9 900.3H524.7" stroke="#000" stroke-width="1.9"/>
<text x="511.5" y="866.8" text-anchor="end">230</text>
<text x="511.5" y="896" text-anchor="end">80</text>
<path d="M517.9 859.3H524.7M517.9 892.4H524.7" stroke="#000" stroke-width="1.9"/>
<text x="541" y="1237.3" text-anchor="middle">−2</text>
<text x="624.6" y="1237.3" text-anchor="middle">−1</text>
<text x="708.2" y="1237.3" text-anchor="middle">0</text>
<text x="791.8" y="1237.3" text-anchor="middle">1</text>
<text x="875.4" y="1237.3" text-anchor="middle">2</text>
<path d="M541 1210V1216.8M624.6 1210V1216.8M708.2 1210V1216.8M791.8 1210V1216.8M875.4 1210V1216.8" stroke="#000" stroke-width="1.9"/>
<text transform="translate(469.3 1048.7) rotate(-90)" text-anchor="middle">–log<tspan font-size="14" dy="5">10</tspan><tspan dy="-5">[</tspan><tspan font-style="italic">P</tspan>]</text>
<path d="M1163.1 1140.4h2.8M1157.9 1109.2h2.8M1163.6 1093h2.8M1172.1 1138.5h2.8M1162.2 1090.4h2.8M1167.2 1136.2h2.8M1166.9 1136h2.8M1153.5 1104h2.8M1152.5 1104.4h2.8M1165.8 1110.8h2.8M1173 1133.1h2.8M1163.2 1134.1h2.8M1163.8 1124.3h2.8M1168.8 1138.9h2.8M1162.9 1106.4h2.8M1166 1149.8h2.8M1161.2 1144.6h2.8M1156.1 1106.1h2.8M1175.5 1136.1h2.8M1164.8 1136.3h2.8M1166.8 1144.6h2.8M1166.9 1104.8h2.8M1169.4 1129.1h2.8M1174.9 1131.2h2.8M1169.4 1119.1h2.8M1173.3 1133.3h2.8M1166.9 1117.1h2.8M1161.9 1125.4h2.8M1161.8 1103.1h2.8M1164.4 1094.8h2.8M1151.1 1099h2.8M1165.2 1096.6h2.8M1155.8 1111.4h2.8M1149.7 1091.8h2.8M1169.3 1132.9h2.8M1171.2 1133.2h2.8M1159 1094.1h2.8M1167.4 1112.5h2.8M1175.8 1140.8h2.8M1163.5 1094.1h2.8M1178.2 1146.7h2.8M1153.4 1096.6h2.8M1150.7 1096.9h2.8M1174.8 1142.6h2.8M1171.7 1129.3h2.8M1162.4 1129.2h2.8M1151.6 1096.2h2.8M1162.8 1137h2.8M1160.1 1109.8h2.8M1153 1091.3h2.8M1164.4 1107.5h2.8M1159.1 1112.8h2.8M1171.1 1149.8h2.8M1171.5 1142.8h2.8M1155.7 1091.9h2.8M1167.8 1117.1h2.8M1165.2 1111.5h2.8M1159.8 1123.3h2.8M1162.3 1143.5h2.8M1163.1 1140.8h2.8M1151.9 1090.1h2.8M1176.4 1137.3h2.8M1156.5 1090.3h2.8M1169 1120.5h2.8M1159.3 1101.4h2.8M1167.3 1111.5h2.8M1167.8 1106.2h2.8M1156.1 1107.6h2.8M1167.1 1133.4h2.8M1160.5 1096.8h2.8M1162.5 1095h2.8M1172 1133.2h2.8M1163.5 1128.9h2.8M1160.8 1114.9h2.8M1162.6 1145.2h2.8M1161.5 1145.1h2.8M1155.8 1102.8h2.8M1170.1 1145.9h2.8M1168.7 1113.5h2.8M1159.5 1104.5h2.8M1168.9 1123h2.8M1170.5 1136.7h2.8M1158.9 1111.6h2.8M1164.5 1099.6h2.8M1170.7 1131.1h2.8M1158.1 1100.5h2.8M1169.6 1138h2.8M1157.9 1097.8h2.8M1165.2 1144.9h2.8M1156.2 1101.9h2.8M1173.1 1133.6h2.8M1153.3 1099.6h2.8M1157.5 1105.4h2.8M1158.7 1122.4h2.8M1156.3 1110.3h2.8M1175.3 1150.5h2.8M1165.6 1096.3h2.8M1156.2 1096.3h2.8M1176.7 1151h2.8M1166.5 1135.5h2.8M1161.8 1102.2h2.8M1153.4 1096.6h2.8M1154.6 1114.1h2.8M1167.5 1114.7h2.8M1167 1133h2.8M1165.5 1129.2h2.8M1160.4 1098.8h2.8M1166.7 1115.1h2.8M1169 1146.3h2.8M1169.5 1125.6h2.8M1158.3 1116.1h2.8M1174.1 1134.8h2.8M1171.7 1138h2.8M1172.6 1142.9h2.8M1165.4 1129.8h2.8M1163.4 1109.4h2.8M1156.8 1096.1h2.8M1172.1 1138.5h2.8M1161.7 1129h2.8M1162.2 1116.3h2.8M1164.4 1128.5h2.8M1174.2 1131.9h2.8M1161.9 1101.3h2.8M1166.3 1138.2h2.8M1172 1120.4h2.8M1157.9 1092.4h2.8M1163.6 1100h2.8M1171.1 1148.3h2.8M1159.3 1096.3h2.8M1168.4 1123.5h2.8M1166.7 1121.8h2.8M1169.4 1141.4h2.8M1170.3 1115.4h2.8M1162.8 1103h2.8M1166.9 1114.3h2.8M1166.3 1097.6h2.8M1154.5 1112h2.8M1159.1 1107h2.8M1155.5 1090.8h2.8M1166.2 1116.1h2.8M1158 1111.8h2.8M1163.9 1103.9h2.8M1171.2 1148.3h2.8M1164.8 1103.6h2.8M1157.6 1114.3h2.8M1163 1098h2.8M1171.1 1140.2h2.8M1164.7 1119.1h2.8M1167.6 1104h2.8M1164.2 1111.9h2.8M1174.5 1140.8h2.8M1160.1 1119h2.8M1158.4 1124h2.8M1166.5 1141.7h2.8M1165.2 1142.7h2.8M1158.1 1113.3h2.8M1157.7 1116.4h2.8M1160.2 1090.2h2.8M1156.6 1107.4h2.8M1160.8 1108.7h2.8M1165.3 1116.6h2.8M1164.1 1130.9h2.8M1176.9 1147.6h2.8M1162.7 1093.5h2.8M1175.2 1146.2h2.8M1164.1 1098.7h2.8M1157.7 1129.3h2.8M1164 1090.7h2.8M1162.1 1130.7h2.8M1152.3 1096.3h2.8M1217.6 1111.7h2.8M1211.1 1117.3h2.8M1217.9 1145.2h2.8M1218.7 1108.4h2.8M1217.7 1130.4h2.8M1219 1133.4h2.8M1218.4 1139.4h2.8M1216.8 1109.9h2.8M1217.3 1126.5h2.8M1218.8 1121.9h2.8M1211.9 1127.8h2.8M1211.3 1111.7h2.8M1209.8 1124.7h2.8M1210.8 1123.4h2.8M1214.6 1124.6h2.8M1218.6 1127h2.8M1218.2 1100.3h2.8M1215.3 1123.4h2.8M1218.4 1133.3h2.8M1213.9 1118.7h2.8M1208.7 1148h2.8M1216 1131.9h2.8M1216.1 1101.4h2.8M1219.5 1134.1h2.8M1219.7 1116.5h2.8M1214.4 1125.5h2.8M1208.3 1144.9h2.8M1215.9 1135.9h2.8M1218.5 1116.9h2.8M1214.5 1118.3h2.8M1217.6 1126.3h2.8M1214.3 1110.5h2.8M1215.3 1121.1h2.8M1211.7 1141.3h2.8M1213.1 1141.4h2.8M1212.1 1125.2h2.8M1219.8 1125.3h2.8M1217.8 1132.7h2.8M1212.9 1116.5h2.8M1215.7 1115h2.8M1217.7 1131.7h2.8M1217.1 1102h2.8M1214.8 1144.3h2.8M1213.2 1102.5h2.8M1212.3 1100.3h2.8M1215.6 1146.1h2.8M1217.8 1132.9h2.8M1215.6 1145.5h2.8M1215.9 1130.8h2.8M1215.5 1134.8h2.8M1211 1134h2.8M1213.9 1133.4h2.8M1209.5 1138.1h2.8M1210.4 1109.1h2.8M1219.3 1138.7h2.8M1212.9 1132.8h2.8M1217.8 1141.1h2.8M1211.8 1128.1h2.8M1214 1115.1h2.8M1214.1 1115.9h2.8M1219.5 1132.1h2.8M1215.7 1102.7h2.8M1211.6 1102h2.8M1215.2 1140.5h2.8M1213.5 1145.9h2.8M1214.1 1100.7h2.8M1219.5 1129.6h2.8M1213.8 1149h2.8M1210.4 1120.6h2.8M1211.1 1132.2h2.8M1210.3 1107.6h2.8M1216.8 1100.2h2.8M1219.4 1106.1h2.8M1218.5 1104.4h2.8M1210.4 1106.4h2.8M1156.7 1083.6h2.8M1156.9 1082.8h2.8M1147.3 1091.6h2.8M1156.6 1092.8h2.8M1156.8 1081.3h2.8M1155.4 1090.6h2.8M1149.7 1188.6h2.8M1142.5 1191.6h2.8M1158.7 1101.1h2.8M1134.1 1161.8h2.8M1162.2 1107.6h2.8M1144.5 1169.3h2.8M1139.4 1181.8h2.8M1150.6 1105.7h2.8M1146.5 1154.6h2.8M1149 1164.3h2.8M1138.7 1175.7h2.8M1146.3 1161.3h2.8M1155.6 1139.7h2.8M1147.1 1174.7h2.8M1166.7 1174.5h2.8M1153.4 1127.8h2.8M1135.7 1192.5h2.8M1158.2 1178.6h2.8M1145.2 1157.6h2.8M1167.8 1179h2.8M1154.6 1129.3h2.8M1148.6 1184.4h2.8M1146.8 1165.1h2.8M1154.7 1185.1h2.8M1161.9 1126.9h2.8M1133.7 1125h2.8M1148.4 1155.7h2.8M1162.2 1184.3h2.8M1135.1 1179.2h2.8M1162 1182.4h2.8M1153.6 1126h2.8M1163.4 1176.7h2.8M1157.6 1186.8h2.8M1145.7 1108.1h2.8M1153 1175.8h2.8M1226.2 1172.5h2.8M1246.7 1126.1h2.8M1237.6 1166h2.8M1233.6 1123.6h2.8M1227.7 1172.6h2.8M1242.8 1146.4h2.8M1223.1 1177.6h2.8M1242.2 1126h2.8M1236.8 1185.7h2.8M1245.4 1152h2.8M1233.9 1158h2.8M1225.9 1122.3h2.8M1225.7 1168.1h2.8M1230.8 1155.8h2.8M1231.9 1151.5h2.8M1224.8 1109h2.8M1248.5 1138.7h2.8M1223.6 1161.9h2.8M1242.6 1119.1h2.8M1237.3 1136h2.8M1235.1 1106.9h2.8M1221.5 1194.1h2.8M1244.9 1148.8h2.8M1236.5 1128.5h2.8M1242.4 1143.3h2.8M1247.1 1174.1h2.8M1243.5 1191.7h2.8M1227.7 1108.4h2.8M1226.2 1121.3h2.8M1222.9 1109.6h2.8M1236.2 1183.4h2.8M1233.4 1190.2h2.8M1246.1 1110.8h2.8M1237.3 1140.8h2.8M1224 1191.3h2.8M1211.2 1096.3h2.8M1218.1 1104.1h2.8M1218.7 1092.9h2.8M1214.7 1088.2h2.8M1224 1104.8h2.8M1210.6 1085.8h2.8M1211.2 1092h2.8M1222.8 1103.1h2.8M1221.7 1085.9h2.8M1220.8 1099.2h2.8M1218.2 1104.7h2.8M1207.6 1087.9h2.8M1079.3 983.2h2.8M1089.6 1038h2.8M1124.8 1040.3h2.8M1134.1 1162.6h2.8M1119.7 1172.9h2.8M1140.9 1139.7h2.8M1230 988h2.8M1148.6 1010h2.8M1158.6 1050h2.8M1153.6 1060h2.8M1163.6 1075h2.8M1238.6 1060h2.8M1234.6 1090h2.8M1243.6 1100h2.8M1228.6 1070h2.8M1126.6 1110h2.8M1110.6 1140h2.8" stroke="#959595" stroke-width="2.8" fill="none"/>
<path d="M1168 1150L1178 1152L1186 1165L1196 1177L1205 1163L1213 1150L1220 1148L1220 1185L1215 1194L1205 1197L1188 1197L1182 1192L1172 1172Z" fill="#959595" stroke="#959595" stroke-width="1.5" stroke-linejoin="round"/>
<path d="M1175.8 857.6V1209.8" stroke="#1a1a1a" stroke-width="1.6" stroke-dasharray="6.5 4.2"/>
<path d="M1220.3 857.6V1209.8" stroke="#1a1a1a" stroke-width="1.6" stroke-dasharray="6.5 4.2"/>
<path d="M1014.5 1186.8H1382.5" stroke="#333" stroke-width="1.6" stroke-dasharray="8 4.5"/>
<circle cx="1117.6" cy="873.5" r="5.9" fill="#1e90ff"/>
<circle cx="1125.1" cy="984.4" r="5.9" fill="#1e90ff"/>
<circle cx="1130.2" cy="981" r="5.9" fill="#1e90ff"/>
<circle cx="1133" cy="985.5" r="5.9" fill="#1e90ff"/>
<circle cx="1133.7" cy="1000.2" r="5.9" fill="#1e90ff"/>
<circle cx="1136.1" cy="1012.2" r="5.9" fill="#1e90ff"/>
<circle cx="1143.9" cy="1038.5" r="5.9" fill="#1e90ff"/>
<circle cx="1138.8" cy="1088.8" r="5.9" fill="#1e90ff"/>
<circle cx="1274" cy="1017" r="5.9" fill="#cd8500"/>
<circle cx="1253.5" cy="1042" r="5.9" fill="#cd8500"/>
<circle cx="1259.3" cy="1039.2" r="5.9" fill="#cd8500"/>
<circle cx="1260.3" cy="1056.7" r="5.9" fill="#cd8500"/>
<circle cx="1267.2" cy="1073.8" r="5.9" fill="#cd8500"/>
<circle cx="1245.9" cy="1079.6" r="5.9" fill="#cd8500"/>
<circle cx="1243.9" cy="1086.5" r="5.9" fill="#cd8500"/>
<circle cx="1256.9" cy="1098.4" r="5.9" fill="#cd8500"/>
<circle cx="1224.4" cy="1158.3" r="5.9" fill="#cd8500"/>
<path d="M1275.6 1013L1280 1009M1255.3 1033.5L1258.8 1038" stroke="#000" stroke-width="1.3" fill="none"/>
<text x="1125.8" y="879.4" font-size="18.5" font-style="italic">Tigit</text>
<text x="1116.5" y="974.2" font-size="18.5" font-style="italic">Id2</text>
<text x="1139.5" y="990.6" font-size="18.5" font-style="italic">Lag3</text>
<text x="1068.6" y="997.5" font-size="18.5" font-style="italic">Cxcr6</text>
<text x="1072" y="1012.9" font-size="18.5" font-style="italic">Pdcd1</text>
<text x="1142.2" y="1019.7" font-size="18.5" font-style="italic">Nr4a2</text>
<text x="1137.8" y="1060" font-size="18.5" font-style="italic">Tox</text>
<text x="1114.8" y="1079.6" font-size="18.5" font-style="italic">Havcr2</text>
<text x="1273" y="1008.7" font-size="18.5" font-style="italic">Klf2</text>
<text x="1224.4" y="1029.3" font-size="18.5" font-style="italic">Itgb7</text>
<text x="1207.3" y="1050.5" font-size="18.5" font-style="italic">Tcf7</text>
<text x="1269.9" y="1058.4" font-size="18.5" font-style="italic">Sell</text>
<text x="1276.7" y="1078.6" font-size="18.5" font-style="italic">Ccr7</text>
<text x="1203.8" y="1079.6" font-size="18.5" font-style="italic">Lef1</text>
<text x="1189.1" y="1101.9" font-size="18.5" font-style="italic">S1pr1</text>
<text x="1256.9" y="1119" font-size="18.5" font-style="italic">Il7r</text>
<text x="1234" y="1163.5" font-size="18.5" font-style="italic">Slamf6</text>
<path d="M1251.2 899.5h2.8" stroke="#959595" stroke-width="2.8" fill="none"/>
<circle cx="1247.3" cy="885.4" r="5.2" fill="#1e90ff"/>
<circle cx="1247.3" cy="903.4" r="5.2" fill="#cd8500"/>
<text x="1260.3" y="890.4">Exhausted</text>
<text x="1260.3" y="908.3">Memory-like</text>
<rect x="1014.5" y="857.6" width="368" height="352.2" fill="none" stroke="#000" stroke-width="2.3"/>
<text x="1001.9" y="1201.8" text-anchor="end">0</text>
<text x="1001.9" y="1128.4" text-anchor="end">20</text>
<text x="1001.9" y="1055" text-anchor="end">40</text>
<text x="1001.9" y="981.5" text-anchor="end">60</text>
<text x="1001.9" y="908.1" text-anchor="end">80</text>
<path d="M1007.7 1194.4H1014.5M1007.7 1121H1014.5M1007.7 1047.6H1014.5M1007.7 974.1H1014.5M1007.7 900.7H1014.5" stroke="#000" stroke-width="1.9"/>
<text x="1031.5" y="1237.1" text-anchor="middle">−2</text>
<text x="1114.8" y="1237.1" text-anchor="middle">−1</text>
<text x="1198" y="1237.1" text-anchor="middle">0</text>
<text x="1281.2" y="1237.1" text-anchor="middle">1</text>
<text x="1364.5" y="1237.1" text-anchor="middle">2</text>
<path d="M1031.5 1209.8V1216.6M1114.8 1209.8V1216.6M1198 1209.8V1216.6M1281.2 1209.8V1216.6M1364.5 1209.8V1216.6" stroke="#000" stroke-width="1.9"/>
<text transform="translate(959.3 1049.5) rotate(-90)" text-anchor="middle">–log<tspan font-size="14" dy="5">10</tspan><tspan dy="-5">[</tspan><tspan font-style="italic">P</tspan>]</text>
<path d="M720.1 1604.5h2.8M715.8 1567.3h2.8M711.1 1594h2.8M684.4 1568.8h2.8M692.7 1557.2h2.8M705.1 1559.8h2.8M691.7 1558.3h2.8M715.9 1550.7h2.8M718 1561.3h2.8M680.6 1603.8h2.8M690.7 1604.2h2.8M726.3 1601.5h2.8M686.3 1575.9h2.8M683.9 1603.9h2.8M724.9 1586.4h2.8M703.5 1569.7h2.8M723.9 1577.7h2.8M713.2 1558.3h2.8M690.8 1553.3h2.8M717.9 1582.1h2.8M686.6 1600.5h2.8M693.3 1573.9h2.8M687.2 1565.7h2.8M724.8 1569.4h2.8M687.8 1578.5h2.8M696.1 1602.4h2.8M684.9 1606.8h2.8M681.7 1601.9h2.8M715.4 1562.2h2.8M704.9 1566.6h2.8M692.8 1561.7h2.8M698.6 1607.5h2.8M733.5 1603.7h2.8M684 1566.8h2.8M727.9 1553.3h2.8M718.6 1567h2.8M732.4 1550.9h2.8M723 1569.8h2.8M686.3 1550.1h2.8M724.4 1580.5h2.8M688.8 1575.2h2.8M728.8 1562.7h2.8M710 1558h2.8M688.5 1594.7h2.8M717.7 1561.4h2.8M683 1555.1h2.8M712.1 1578.7h2.8M693.7 1561.9h2.8M712.3 1591h2.8M723.2 1583.8h2.8M689.7 1553.8h2.8M718.9 1573.7h2.8M718.3 1553.2h2.8M723.2 1569.4h2.8M724.9 1600.1h2.8M705.7 1550.9h2.8M728.7 1577.6h2.8M726.6 1565.4h2.8M688.8 1598.2h2.8M698.8 1559.5h2.8M707.2 1547.8h2.8M688.8 1545.6h2.8M710.9 1545.5h2.8M694.6 1551.4h2.8M729.4 1556h2.8M704.6 1551.3h2.8M707.7 1552.5h2.8M691.7 1556.2h2.8M736.3 1544.8h2.8M714.3 1545.9h2.8M715.5 1530.6h2.8M737 1536.7h2.8M697.7 1533.1h2.8M701.1 1554.5h2.8M690.1 1532.9h2.8M646.3 1418.9h2.8M650.1 1473.9h2.8M744.1 1511.9h2.8M731.7 1523.8h2.8M737.5 1528.7h2.8M738.1 1545.6h2.8M733.6 1567h2.8M731.6 1575h2.8M683.2 1520h2.8M674.6 1530h2.8M669.6 1598h2.8M651.1 1597.5h2.8M738.6 1590h2.8M743.6 1600h2.8M678.6 1600h2.8M681.6 1608h2.8M726.6 1540h2.8M718.6 1553h2.8M731.6 1556h2.8" stroke="#959595" stroke-width="2.8" fill="none"/>
<path d="M685.5 1575.2L687.5 1561.4L695.4 1561.4L701.4 1571.3L705.3 1577.2L707.3 1567.3L715.2 1563.4L723.2 1569.3L724.2 1579.2L723.2 1599L721.2 1606.9L689.5 1606.9L686.5 1595Z" fill="#959595" stroke="#959595" stroke-width="1.5" stroke-linejoin="round"/>
<path d="M689.5 1269.2V1621.5" stroke="#1a1a1a" stroke-width="1.6" stroke-dasharray="6.5 4.2"/>
<path d="M719 1269.2V1621.5" stroke="#1a1a1a" stroke-width="1.6" stroke-dasharray="6.5 4.2"/>
<path d="M522.5 1579.9H885.7" stroke="#333" stroke-width="1.6" stroke-dasharray="8 4.5"/>
<circle cx="671.9" cy="1513.9" r="5.9" fill="#0000ff"/>
<circle cx="672.5" cy="1551.7" r="5.9" fill="#0000ff"/>
<circle cx="680.1" cy="1560.6" r="5.9" fill="#0000ff"/>
<circle cx="661.3" cy="1571.1" r="5.9" fill="#0000ff"/>
<circle cx="676.1" cy="1576.7" r="5.9" fill="#0000ff"/>
<circle cx="681.6" cy="1578.2" r="5.9" fill="#0000ff"/>
<circle cx="677.6" cy="1587.1" r="5.9" fill="#0000ff"/>
<circle cx="704.4" cy="1587.1" r="5.9" fill="#0000ff"/>
<circle cx="661.3" cy="1599.5" r="5.9" fill="#0000ff"/>
<circle cx="702.2" cy="1604.2" r="5.9" fill="#0000ff"/>
<path d="M685 1546.3L680.4 1559.4M657.3 1556.2L676.6 1576.2M641 1569.6L660.3 1571.1M695.4 1568.3L682.1 1577.7M663.3 1587.1L678.1 1587.1M634.2 1610.3L660.3 1600" stroke="#000" stroke-width="1.3" fill="none"/>
<text x="639.3" y="1504.4" font-size="18.5" font-style="italic">Ctla4</text>
<text x="648.4" y="1543.6" font-size="18.5" font-style="italic">Tigit</text>
<text x="687.5" y="1549" font-size="18.5" font-style="italic">Tnfrsf1b</text>
<text x="615.2" y="1560.4" font-size="18.5" font-style="italic">Ccr8</text>
<text x="597.2" y="1575.7" font-size="18.5" font-style="italic">Lag3</text>
<text x="696.9" y="1573.3" font-size="18.5" font-style="italic">Il10</text>
<text x="606.3" y="1594.4" font-size="18.5" font-style="italic">Pdcd1</text>
<text x="711.3" y="1592.6" font-size="18.5" font-style="italic">Ccl5</text>
<text x="590.4" y="1617.1" font-size="18.5" font-style="italic">Ccl4</text>
<text x="707.3" y="1616.3" font-size="18.5" font-style="italic">Foxp3</text>
<circle cx="754" cy="1305.8" r="5.2" fill="#0000ff"/>
<text x="764.2" y="1312.8">Suppressive</text>
<rect x="522.5" y="1269.2" width="363.2" height="352.3" fill="none" stroke="#000" stroke-width="2.3"/>
<text x="511.9" y="1613.4" text-anchor="end">0</text>
<text x="511.9" y="1549.2" text-anchor="end">5</text>
<text x="511.9" y="1484.9" text-anchor="end">10</text>
<text x="511.9" y="1420.7" text-anchor="end">15</text>
<text x="511.9" y="1356.4" text-anchor="end">20</text>
<text x="511.9" y="1292.2" text-anchor="end">25</text>
<path d="M515.7 1606H522.5M515.7 1541.8H522.5M515.7 1477.5H522.5M515.7 1413.2H522.5M515.7 1349H522.5M515.7 1284.8H522.5" stroke="#000" stroke-width="1.9"/>
<text x="594.5" y="1648.8" text-anchor="middle">−2</text>
<text x="704.1" y="1648.8" text-anchor="middle">0</text>
<text x="813.7" y="1648.8" text-anchor="middle">2</text>
<path d="M594.5 1621.5V1628.3M704.1 1621.5V1628.3M813.7 1621.5V1628.3" stroke="#000" stroke-width="1.9"/>
<text transform="translate(469.3 1450) rotate(-90)" text-anchor="middle">–log<tspan font-size="14" dy="5">10</tspan><tspan dy="-5">[</tspan><tspan font-style="italic">P</tspan>]</text>
<text x="702.2" y="1675.8" text-anchor="middle">log<tspan font-size="14" dy="5">2</tspan><tspan dy="-5">[FC]</tspan></text>
<text x="664.7" y="1709.8" text-anchor="end">Anti-PD-L1</text>
<text x="665.7" y="1733.6" text-anchor="end">monotherapy</text>
<text x="728.5" y="1709.8">Anti-TIGIT IgG2b</text>
<text x="728.5" y="1733.6">+ anti-PD-L1</text>
<path d="M534.4 1718.3H502.3" stroke="#000" stroke-width="2"/>
<path d="M494.3 1718.3L507.3 1712.8L503.3 1718.3L507.3 1723.8Z" fill="#000"/>
<path d="M875.2 1718.3H907.2" stroke="#000" stroke-width="2"/>
<path d="M915.2 1718.3L902.2 1712.8L906.2 1718.3L902.2 1723.8Z" fill="#000"/>
<path d="M1159.2 1534h2.8M1157.8 1477.5h2.8M1163.7 1523.8h2.8M1157.5 1534.3h2.8M1171.2 1548.2h2.8M1150.9 1479.7h2.8M1162.3 1517h2.8M1153.4 1499.2h2.8M1155 1509.7h2.8M1170 1525.1h2.8M1159.1 1488.2h2.8M1159.1 1538h2.8M1174.8 1544.6h2.8M1159.6 1508.3h2.8M1167.1 1545.7h2.8M1168.5 1508.8h2.8M1162.8 1540.5h2.8M1156.4 1496h2.8M1169.8 1512.2h2.8M1174 1542.8h2.8M1172.9 1543.6h2.8M1157 1480.4h2.8M1176.7 1555.5h2.8M1158 1496.7h2.8M1161.5 1528.5h2.8M1155.1 1520.1h2.8M1161.6 1511.9h2.8M1150.9 1477.7h2.8M1173.7 1556.5h2.8M1170.4 1553.8h2.8M1173.5 1543.2h2.8M1158.1 1549.4h2.8M1159.9 1529.3h2.8M1160.4 1532.3h2.8M1170.4 1521h2.8M1159.3 1527.6h2.8M1161.4 1519.2h2.8M1163.8 1554.9h2.8M1162.4 1501.3h2.8M1159.1 1486h2.8M1168.3 1555.4h2.8M1158.9 1498.3h2.8M1156.6 1520.3h2.8M1151.9 1486.3h2.8M1158.2 1500.4h2.8M1210 1546.6h2.8M1214.1 1531.6h2.8M1217.5 1588h2.8M1217.2 1567.8h2.8M1216.9 1540.1h2.8M1215.2 1559.6h2.8M1214.4 1571h2.8M1210 1548.3h2.8M1214 1541.6h2.8M1215.6 1553.7h2.8M1210.9 1525.9h2.8M1211.3 1589.6h2.8M1214.6 1566.7h2.8M1221.5 1546.4h2.8M1218.2 1547.2h2.8M1206.9 1536.9h2.8M1214.7 1590.3h2.8M1211.6 1529.7h2.8M1218.2 1558h2.8M1209.2 1533.2h2.8M1220 1596.9h2.8M1211.1 1536.6h2.8M1216.9 1551.4h2.8M1220.6 1571.2h2.8M1215.9 1586.6h2.8M1219.3 1580.4h2.8M1215 1582h2.8M1218.9 1583.9h2.8M1209.6 1593.6h2.8M1207.4 1590.3h2.8M1216.8 1582.4h2.8M1222 1562.3h2.8M1213.5 1567.9h2.8M1221.6 1583.8h2.8M1213 1570.6h2.8M1213.8 1558.9h2.8M1211.9 1579.2h2.8M1215.1 1554.3h2.8M1211.4 1553.8h2.8M1221.3 1584h2.8M1213.7 1562.5h2.8M1210.6 1538.8h2.8M1214.7 1535.9h2.8M1208.2 1568.6h2.8M1212.9 1594h2.8M1221.3 1588.3h2.8M1211 1596.9h2.8M1220.9 1557h2.8M1206.3 1525.8h2.8M1214.8 1567.4h2.8M1220.5 1594h2.8M1222.7 1565.4h2.8M1214.9 1563.8h2.8M1213.3 1576.4h2.8M1215.7 1551.8h2.8M1221.2 1551.3h2.8M1215.5 1575.7h2.8M1211.5 1532.4h2.8M1215.3 1555.1h2.8M1221 1568.1h2.8M1215.8 1597.3h2.8M1216.4 1558h2.8M1213.4 1599.7h2.8M1219.8 1564.8h2.8M1210.8 1537.8h2.8M1221.6 1598.4h2.8M1208.4 1563.4h2.8M1219 1592.1h2.8M1223.7 1586.5h2.8M1214.4 1591.6h2.8M1210.4 1536.7h2.8M1214.7 1563.4h2.8M1208.8 1539.1h2.8M1216.7 1572.3h2.8M1221.9 1551.5h2.8M1207.6 1572.7h2.8M1218.9 1555.9h2.8M1217 1548h2.8M1210.2 1525.3h2.8M1217.1 1588.2h2.8M1210.1 1575.1h2.8M1215.4 1562.3h2.8M1216.2 1545h2.8M1222.7 1564.9h2.8M1213.4 1568.1h2.8M1208.2 1534.1h2.8M1208.9 1582h2.8M1208.4 1532.5h2.8M1219.9 1564.2h2.8M1219.9 1571h2.8M1205.9 1529.7h2.8M1212.5 1582.8h2.8M1212.8 1578.7h2.8M1210 1537.7h2.8M1219.5 1532.5h2.8M1212.4 1568.7h2.8M1212.6 1558.7h2.8M1219.2 1529.1h2.8M1222.3 1568.7h2.8M1216.3 1558h2.8M1206.8 1543.7h2.8M1221.9 1594.8h2.8M1220.3 1548.6h2.8M1212.3 1586.2h2.8M1222.4 1570.2h2.8M1221.8 1562.2h2.8M1212.1 1543.2h2.8M1210.7 1578.9h2.8M1219.9 1548.2h2.8M1219.2 1561.3h2.8M1208.8 1543.3h2.8M1209.2 1551.9h2.8M1212.5 1597.9h2.8M1208.6 1567.1h2.8M1212.9 1565h2.8M1207.4 1555.2h2.8M1218.4 1534.2h2.8M1210.1 1551.3h2.8M1210.3 1539.3h2.8M1206.6 1542.8h2.8M1212.5 1574.8h2.8M1216.7 1536.7h2.8M1209.9 1531.9h2.8M1209.4 1587.6h2.8M1219.8 1558.2h2.8M1209.9 1585.4h2.8M1217.7 1551.5h2.8M1221.5 1553.3h2.8M1220.7 1540.6h2.8M1210.2 1562.9h2.8M1219.9 1459.2h2.8M1226.3 1468.3h2.8M1231.1 1491.1h2.8M1217.8 1467.2h2.8M1223.8 1464.9h2.8M1230.4 1458.6h2.8M1221.4 1488h2.8M1215.4 1504h2.8M1218.2 1496h2.8M1222.8 1471.8h2.8M1168.3 1591.5h2.8M1163 1604.5h2.8M1166.6 1601.3h2.8M1161.3 1599.6h2.8M1167.6 1598.5h2.8M1166 1591.1h2.8M1166.4 1593.8h2.8M1161.8 1602.2h2.8M1165.7 1596.9h2.8M1181.3 1603.2h2.8M1180.7 1604.6h2.8M1161.9 1594.7h2.8M1159.3 1601.6h2.8M1175.2 1596h2.8M1168.9 1601.2h2.8M1224.2 1454.1h2.8M1221.9 1473.1h2.8M1219.6 1486.2h2.8M1218.6 1491.5h2.8M1214.2 1503.4h2.8M1224.2 1509.2h2.8M1218.6 1519.2h2.8M1234.9 1553.1h2.8M1250.2 1599.7h2.8M1234.9 1605.4h2.8M1154.4 1477.1h2.8M1143.1 1490.9h2.8M1136 1477.3h2.8M1151.2 1503.9h2.8M1155.7 1512.4h2.8M1149 1515.2h2.8M1149 1554.8h2.8M1156.9 1584.2h2.8M1151.8 1604h2.8M1240.2 1358.3h2.8M1225.9 1428.5h2.8M1236.1 1433.9h2.8M1224.2 1454.1h2.8M1222.4 1473h2.8M1113.5 1445.9h2.8M1140.9 1457.9h2.8M1135.8 1477.5h2.8M1154.6 1476.8h2.8M1147.8 1499.7h2.8M1154.6 1515.1h2.8M1122.1 1572.2h2.8M1249.8 1599.7h2.8M1228.6 1580h2.8M1226.6 1570h2.8M1230.6 1590h2.8" stroke="#959595" stroke-width="2.8" fill="none"/>
<path d="M1168.5 1575.8L1177.5 1557.7L1184.3 1559.9L1191.1 1573.5L1197.9 1586L1200.2 1573.5L1206.9 1562.2L1211.5 1539.6L1214.9 1541.8L1211.5 1575.8L1213.7 1600.7L1206.9 1606.3L1193.4 1607.5L1179.8 1599.5L1170.7 1587.1Z" fill="#959595" stroke="#959595" stroke-width="1.5" stroke-linejoin="round"/>
<path d="M1182.3 1268.6V1621.1" stroke="#1a1a1a" stroke-width="1.6" stroke-dasharray="6.5 4.2"/>
<path d="M1211.4 1268.6V1621.1" stroke="#1a1a1a" stroke-width="1.6" stroke-dasharray="6.5 4.2"/>
<path d="M1014.5 1580H1378.4" stroke="#333" stroke-width="1.6" stroke-dasharray="8 4.5"/>
<circle cx="1114.8" cy="1333.6" r="5.9" fill="#0000ff"/>
<circle cx="1067.9" cy="1342.2" r="5.9" fill="#0000ff"/>
<circle cx="1133" cy="1404.8" r="5.9" fill="#0000ff"/>
<circle cx="1130.6" cy="1467.8" r="5.9" fill="#0000ff"/>
<circle cx="1046.4" cy="1520.1" r="5.9" fill="#0000ff"/>
<circle cx="1145" cy="1524" r="5.9" fill="#0000ff"/>
<circle cx="1109" cy="1530.4" r="5.9" fill="#0000ff"/>
<circle cx="1147" cy="1537.1" r="5.9" fill="#0000ff"/>
<circle cx="1169.8" cy="1553.1" r="5.9" fill="#0000ff"/>
<circle cx="1198.8" cy="1602.9" r="5.9" fill="#0000ff"/>
<text x="1108" y="1325" font-size="18.5" font-style="italic">Tigit</text>
<text x="1062.8" y="1362.7" font-size="18.5" font-style="italic">Lag3</text>
<text x="1103.9" y="1396.2" font-size="18.5" font-style="italic">Tnfrsf1b</text>
<text x="1122.4" y="1456.1" font-size="18.5" font-style="italic">Ccr8</text>
<text x="1043" y="1509.2" font-size="18.5" font-style="italic">Ccl4</text>
<text x="1115.9" y="1519.1" font-size="18.5" font-style="italic">Il10</text>
<text x="1079.9" y="1552.7" font-size="18.5" font-style="italic">Ccl5</text>
<text x="1155.5" y="1543.5" font-size="18.5" font-style="italic">Pdcd1</text>
<text x="1131.7" y="1574.6" font-size="18.5" font-style="italic">Ctla4</text>
<text x="1137.4" y="1617" font-size="18.5" font-style="italic">Foxp3</text>
<circle cx="1246.6" cy="1305.5" r="5.2" fill="#0000ff"/>
<text x="1256.9" y="1312.6">Suppressive</text>
<rect x="1014.5" y="1268.6" width="363.9" height="352.5" fill="none" stroke="#000" stroke-width="2.3"/>
<text x="1002.9" y="1613.5" text-anchor="end">0</text>
<text x="1002.9" y="1549.2" text-anchor="end">5</text>
<text x="1002.9" y="1485" text-anchor="end">10</text>
<text x="1002.9" y="1420.8" text-anchor="end">15</text>
<text x="1002.9" y="1356.5" text-anchor="end">20</text>
<text x="1002.9" y="1292.2" text-anchor="end">25</text>
<path d="M1007.7 1606.1H1014.5M1007.7 1541.8H1014.5M1007.7 1477.6H1014.5M1007.7 1413.3H1014.5M1007.7 1349.1H1014.5M1007.7 1284.8H1014.5" stroke="#000" stroke-width="1.9"/>
<text x="1087.2" y="1648.4" text-anchor="middle">−2</text>
<text x="1197" y="1648.4" text-anchor="middle">0</text>
<text x="1306.8" y="1648.4" text-anchor="middle">2</text>
<path d="M1087.2 1621.1V1627.9M1197 1621.1V1627.9M1306.8 1621.1V1627.9" stroke="#000" stroke-width="1.9"/>
<text transform="translate(959.3 1450) rotate(-90)" text-anchor="middle">–log<tspan font-size="14" dy="5">10</tspan><tspan dy="-5">[</tspan><tspan font-style="italic">P</tspan>]</text>
<text x="1196.7" y="1674.2" text-anchor="middle">log<tspan font-size="14" dy="5">2</tspan><tspan dy="-5">[FC]</tspan></text>
<text x="1158.6" y="1708.4" text-anchor="end">Anti-PD-L1</text>
<text x="1160" y="1734" text-anchor="end">monotherapy</text>
<text x="1223.3" y="1708.4">Anti-TIGIT IgG2a</text>
<text x="1223.3" y="1734">+ anti-PD-L1</text>
<path d="M1026.9 1717.6H994.5" stroke="#000" stroke-width="2"/>
<path d="M986.5 1717.6L999.5 1712.1L995.5 1717.6L999.5 1723.1Z" fill="#000"/>
<path d="M1373.3 1717.6H1404.6" stroke="#000" stroke-width="2"/>
<path d="M1412.6 1717.6L1399.6 1712.1L1403.6 1717.6L1399.6 1723.1Z" fill="#000"/>
</g></svg></body></html>
